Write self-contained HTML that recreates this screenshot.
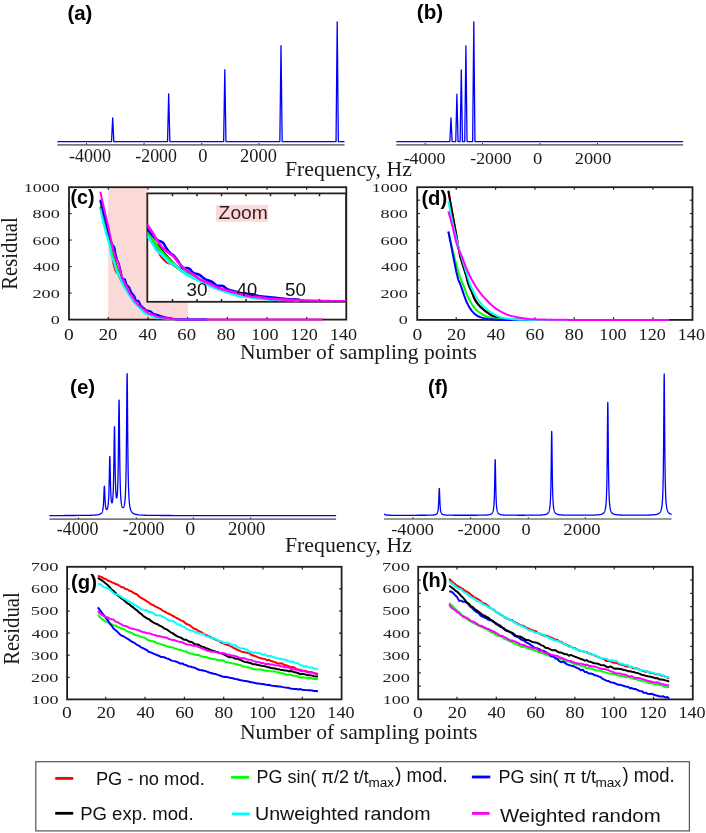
<!DOCTYPE html><html><head><meta charset="utf-8"><style>html,body{margin:0;padding:0;background:#fff;}svg{display:block;will-change:transform;}</style></head><body><svg width="706" height="833" viewBox="0 0 706 833"><rect width="706" height="833" fill="#fff"/><line x1="57.40" y1="144.80" x2="344.50" y2="144.80" stroke="#7a7a7a" stroke-width="1.7"/>
<path d="M57.40,141.60 L111.55,141.60 L112.70,117.80 L113.85,141.60 L167.55,141.60 L168.70,93.80 L169.85,141.60 L223.65,141.60 L224.80,69.70 L225.95,141.60 L279.85,141.60 L281.00,45.60 L282.15,141.60 L336.05,141.60 L337.20,21.90 L338.35,141.60 L344.50,141.60" fill="none" stroke="#0000ff" stroke-width="1.3" stroke-linejoin="round" stroke-linecap="butt"/>
<line x1="86.50" y1="143.00" x2="86.50" y2="144.40" stroke="#222" stroke-width="1.0"/>
<line x1="144.10" y1="143.00" x2="144.10" y2="144.40" stroke="#222" stroke-width="1.0"/>
<line x1="201.70" y1="143.00" x2="201.70" y2="144.40" stroke="#222" stroke-width="1.0"/>
<line x1="259.00" y1="143.00" x2="259.00" y2="144.40" stroke="#222" stroke-width="1.0"/>
<line x1="396.30" y1="144.80" x2="683.00" y2="144.80" stroke="#7a7a7a" stroke-width="1.7"/>
<path d="M396.30,141.60 L449.85,141.60 L451.00,118.00 L452.15,141.60 L455.75,141.60 L456.90,94.20 L458.05,141.60 L460.15,141.60 L461.30,70.00 L462.45,141.60 L464.75,141.60 L465.90,46.00 L467.05,141.60 L472.65,141.60 L473.80,22.00 L474.95,141.60 L683.00,141.60" fill="none" stroke="#0000ff" stroke-width="1.3" stroke-linejoin="round" stroke-linecap="butt"/>
<line x1="425.20" y1="143.00" x2="425.20" y2="144.40" stroke="#222" stroke-width="1.0"/>
<line x1="482.50" y1="143.00" x2="482.50" y2="144.40" stroke="#222" stroke-width="1.0"/>
<line x1="540.00" y1="143.00" x2="540.00" y2="144.40" stroke="#222" stroke-width="1.0"/>
<line x1="597.50" y1="143.00" x2="597.50" y2="144.40" stroke="#222" stroke-width="1.0"/>
<line x1="49.40" y1="519.20" x2="336.10" y2="519.20" stroke="#7a7a7a" stroke-width="1.7"/>
<path d="M49.40,515.56 L51.40,515.55 L53.40,515.55 L55.40,515.55 L57.40,515.54 L59.40,515.54 L61.40,515.54 L63.40,515.53 L65.40,515.52 L67.40,515.52 L69.40,515.51 L71.40,515.50 L73.40,515.49 L75.40,515.48 L77.40,515.47 L79.40,515.45 L81.40,515.43 L83.40,515.41 L85.40,515.38 L87.40,515.35 L89.40,515.30 L91.40,515.24 L92.40,515.21 L92.50,515.20 L92.60,515.20 L92.70,515.19 L92.80,515.19 L92.90,515.18 L93.00,515.18 L93.10,515.17 L93.20,515.17 L93.30,515.16 L93.40,515.16 L93.50,515.15 L93.60,515.15 L93.70,515.14 L93.80,515.14 L93.90,515.13 L94.00,515.13 L94.10,515.12 L94.20,515.12 L94.30,515.11 L94.40,515.10 L94.50,515.10 L94.60,515.09 L94.70,515.08 L94.80,515.08 L94.90,515.07 L95.00,515.06 L95.10,515.06 L95.20,515.05 L95.30,515.04 L95.40,515.03 L95.50,515.03 L95.60,515.02 L95.70,515.01 L95.80,515.00 L95.90,514.99 L96.00,514.98 L96.10,514.97 L96.20,514.97 L96.30,514.96 L96.40,514.95 L96.50,514.94 L96.60,514.92 L96.70,514.91 L96.80,514.90 L96.90,514.89 L97.00,514.88 L97.10,514.87 L97.20,514.85 L97.30,514.84 L97.40,514.83 L97.50,514.81 L97.60,514.80 L97.70,514.79 L97.80,514.77 L97.90,514.75 L98.00,514.74 L98.10,514.72 L98.20,514.70 L98.30,514.68 L98.40,514.67 L98.50,514.65 L98.60,514.62 L98.70,514.60 L98.80,514.58 L98.90,514.56 L99.00,514.53 L99.10,514.51 L99.20,514.48 L99.30,514.45 L99.40,514.42 L99.50,514.39 L99.60,514.36 L99.70,514.33 L99.80,514.29 L99.90,514.25 L100.00,514.21 L100.10,514.17 L100.20,514.13 L100.30,514.08 L100.40,514.03 L100.50,513.98 L100.60,513.92 L100.70,513.86 L100.80,513.79 L100.90,513.72 L101.00,513.65 L101.10,513.57 L101.20,513.48 L101.30,513.39 L101.40,513.29 L101.50,513.17 L101.60,513.05 L101.70,512.92 L101.80,512.77 L101.90,512.61 L102.00,512.43 L102.10,512.23 L102.20,512.01 L102.30,511.76 L102.40,511.48 L102.50,511.16 L102.60,510.80 L102.70,510.39 L102.80,509.91 L102.90,509.36 L103.00,508.72 L103.10,507.97 L103.20,507.10 L103.30,506.06 L103.40,504.84 L103.50,503.40 L103.60,501.69 L103.70,499.71 L103.80,497.44 L103.90,494.92 L104.00,492.29 L104.10,489.76 L104.20,487.69 L104.30,486.44 L104.40,486.28 L104.50,487.24 L104.60,489.08 L104.70,491.46 L104.80,494.01 L104.90,496.47 L105.00,498.70 L105.10,500.65 L105.20,502.31 L105.30,503.70 L105.40,504.86 L105.50,505.82 L105.60,506.62 L105.70,507.28 L105.80,507.82 L105.90,508.26 L106.00,508.62 L106.10,508.91 L106.20,509.14 L106.30,509.31 L106.40,509.44 L106.50,509.52 L106.60,509.56 L106.70,509.57 L106.80,509.54 L106.90,509.48 L107.00,509.38 L107.10,509.25 L107.20,509.08 L107.30,508.87 L107.40,508.62 L107.50,508.32 L107.60,507.97 L107.70,507.57 L107.80,507.10 L107.90,506.56 L108.00,505.93 L108.10,505.20 L108.20,504.36 L108.30,503.37 L108.40,502.21 L108.50,500.85 L108.60,499.25 L108.70,497.36 L108.80,495.12 L108.90,492.46 L109.00,489.31 L109.10,485.61 L109.20,481.32 L109.30,476.47 L109.40,471.23 L109.50,465.95 L109.60,461.21 L109.70,457.78 L109.80,456.32 L109.90,457.17 L110.00,460.11 L110.10,464.49 L110.20,469.56 L110.30,474.68 L110.40,479.46 L110.50,483.70 L110.60,487.34 L110.70,490.42 L110.80,492.98 L110.90,495.11 L111.00,496.86 L111.10,498.29 L111.20,499.47 L111.30,500.41 L111.40,501.17 L111.50,501.76 L111.60,502.21 L111.70,502.53 L111.80,502.72 L111.90,502.81 L112.00,502.80 L112.10,502.68 L112.20,502.45 L112.30,502.12 L112.40,501.68 L112.50,501.11 L112.60,500.41 L112.70,499.55 L112.80,498.52 L112.90,497.29 L113.00,495.81 L113.10,494.06 L113.20,491.97 L113.30,489.48 L113.40,486.51 L113.50,482.96 L113.60,478.74 L113.70,473.74 L113.80,467.87 L113.90,461.11 L114.00,453.57 L114.10,445.61 L114.20,437.90 L114.30,431.46 L114.40,427.42 L114.50,426.66 L114.60,429.33 L114.70,434.83 L114.80,442.05 L114.90,449.88 L115.00,457.52 L115.10,464.48 L115.20,470.57 L115.30,475.78 L115.40,480.15 L115.50,483.80 L115.60,486.83 L115.70,489.33 L115.80,491.39 L115.90,493.07 L116.00,494.44 L116.10,495.54 L116.20,496.41 L116.30,497.07 L116.40,497.54 L116.50,497.84 L116.60,497.99 L116.70,497.97 L116.80,497.81 L116.90,497.48 L117.00,497.00 L117.10,496.34 L117.20,495.48 L117.30,494.41 L117.40,493.10 L117.50,491.51 L117.60,489.59 L117.70,487.27 L117.80,484.50 L117.90,481.17 L118.00,477.18 L118.10,472.40 L118.20,466.69 L118.30,459.91 L118.40,451.97 L118.50,442.87 L118.60,432.80 L118.70,422.31 L118.80,412.40 L118.90,404.47 L119.00,400.04 L119.10,400.10 L119.20,404.66 L119.30,412.71 L119.40,422.76 L119.50,433.38 L119.60,443.58 L119.70,452.83 L119.80,460.91 L119.90,467.84 L120.00,473.71 L120.10,478.66 L120.20,482.83 L120.30,486.35 L120.40,489.34 L120.50,491.87 L120.60,494.04 L120.70,495.89 L120.80,497.49 L120.90,498.88 L121.00,500.08 L121.10,501.12 L121.20,502.04 L121.30,502.84 L121.40,503.55 L121.50,504.17 L121.60,504.71 L121.70,505.19 L121.80,505.61 L121.90,505.98 L122.00,506.31 L122.10,506.59 L122.20,506.83 L122.30,507.04 L122.40,507.21 L122.50,507.36 L122.60,507.47 L122.70,507.56 L122.80,507.62 L122.90,507.66 L123.00,507.67 L123.10,507.66 L123.20,507.62 L123.30,507.55 L123.40,507.46 L123.50,507.34 L123.60,507.19 L123.70,507.01 L123.80,506.80 L123.90,506.55 L124.00,506.27 L124.10,505.94 L124.20,505.57 L124.30,505.15 L124.40,504.67 L124.50,504.12 L124.60,503.51 L124.70,502.81 L124.80,502.02 L124.90,501.12 L125.00,500.10 L125.10,498.93 L125.20,497.59 L125.30,496.05 L125.40,494.27 L125.50,492.22 L125.60,489.82 L125.70,487.03 L125.80,483.75 L125.90,479.88 L126.00,475.30 L126.10,469.87 L126.20,463.41 L126.30,455.76 L126.40,446.75 L126.50,436.28 L126.60,424.40 L126.70,411.48 L126.80,398.36 L126.90,386.45 L127.00,377.61 L127.10,373.62 L127.20,375.39 L127.30,382.53 L127.40,393.50 L127.50,406.39 L127.60,419.57 L127.70,431.98 L127.80,443.09 L127.90,452.73 L128.00,460.96 L128.10,467.93 L128.20,473.80 L128.30,478.76 L128.40,482.95 L128.50,486.52 L128.60,489.55 L128.70,492.16 L128.80,494.41 L128.90,496.35 L129.00,498.05 L129.10,499.53 L129.20,500.83 L129.30,501.99 L129.40,503.01 L129.50,503.92 L129.60,504.73 L129.70,505.46 L129.80,506.12 L129.90,506.71 L130.00,507.25 L130.10,507.74 L130.20,508.19 L130.30,508.60 L130.40,508.97 L130.50,509.32 L130.60,509.63 L130.70,509.93 L130.80,510.20 L130.90,510.45 L131.00,510.68 L131.10,510.90 L131.20,511.10 L131.30,511.29 L131.40,511.46 L131.50,511.63 L131.60,511.78 L131.70,511.93 L131.80,512.07 L131.90,512.19 L132.00,512.32 L132.10,512.43 L132.20,512.54 L132.30,512.64 L132.40,512.74 L132.50,512.83 L132.60,512.92 L132.70,513.00 L132.80,513.08 L132.90,513.16 L133.00,513.23 L133.10,513.30 L133.20,513.36 L133.30,513.42 L133.40,513.48 L133.50,513.54 L133.60,513.59 L133.70,513.65 L133.80,513.70 L133.90,513.74 L134.00,513.79 L134.10,513.83 L134.20,513.88 L134.30,513.92 L134.40,513.96 L134.50,514.00 L134.60,514.03 L134.70,514.07 L134.80,514.10 L134.90,514.13 L135.00,514.17 L135.10,514.20 L135.20,514.23 L135.30,514.25 L135.40,514.28 L135.50,514.31 L135.60,514.33 L135.70,514.36 L135.80,514.38 L135.90,514.41 L136.00,514.43 L136.10,514.45 L136.20,514.47 L136.30,514.49 L136.40,514.51 L136.50,514.53 L136.60,514.55 L136.70,514.57 L136.80,514.59 L136.90,514.60 L137.00,514.62 L137.10,514.64 L137.20,514.65 L137.30,514.67 L137.40,514.68 L137.50,514.70 L137.60,514.71 L137.70,514.73 L137.80,514.74 L137.90,514.75 L138.00,514.77 L138.10,514.78 L138.20,514.79 L138.30,514.81 L138.40,514.82 L138.50,514.83 L138.60,514.84 L138.70,514.85 L138.80,514.86 L138.90,514.87 L139.00,514.88 L139.10,514.89 L139.40,514.92 L141.40,515.07 L143.40,515.18 L145.40,515.25 L147.40,515.31 L149.40,515.35 L151.40,515.38 L153.40,515.41 L155.40,515.43 L157.40,515.45 L159.40,515.47 L161.40,515.48 L163.40,515.49 L165.40,515.50 L167.40,515.51 L169.40,515.52 L171.40,515.52 L173.40,515.53 L175.40,515.53 L177.40,515.54 L179.40,515.54 L181.40,515.55 L183.40,515.55 L185.40,515.55 L187.40,515.56 L189.40,515.56 L191.40,515.56 L193.40,515.56 L195.40,515.56 L197.40,515.57 L199.40,515.57 L201.40,515.57 L203.40,515.57 L205.40,515.57 L207.40,515.57 L209.40,515.58 L211.40,515.58 L213.40,515.58 L215.40,515.58 L217.40,515.58 L219.40,515.58 L221.40,515.58 L223.40,515.58 L225.40,515.58 L227.40,515.58 L229.40,515.58 L231.40,515.58 L233.40,515.58 L235.40,515.59 L237.40,515.59 L239.40,515.59 L241.40,515.59 L243.40,515.59 L245.40,515.59 L247.40,515.59 L249.40,515.59 L251.40,515.59 L253.40,515.59 L255.40,515.59 L257.40,515.59 L259.40,515.59 L261.40,515.59 L263.40,515.59 L265.40,515.59 L267.40,515.59 L269.40,515.59 L271.40,515.59 L273.40,515.59 L275.40,515.59 L277.40,515.59 L279.40,515.59 L281.40,515.59 L283.40,515.59 L285.40,515.59 L287.40,515.59 L289.40,515.59 L291.40,515.59 L293.40,515.59 L295.40,515.59 L297.40,515.59 L299.40,515.59 L301.40,515.59 L303.40,515.59 L305.40,515.59 L307.40,515.59 L309.40,515.59 L311.40,515.59 L313.40,515.59 L315.40,515.59 L317.40,515.59 L319.40,515.59 L321.40,515.60 L323.40,515.60 L325.40,515.60 L327.40,515.60 L329.40,515.60 L331.40,515.60 L333.40,515.60 L335.40,515.60 L336.10,515.60" fill="none" stroke="#0000ff" stroke-width="1.3" stroke-linejoin="round" stroke-linecap="butt"/>
<line x1="78.40" y1="517.40" x2="78.40" y2="518.80" stroke="#222" stroke-width="1.0"/>
<line x1="136.30" y1="517.40" x2="136.30" y2="518.80" stroke="#222" stroke-width="1.0"/>
<line x1="193.30" y1="517.40" x2="193.30" y2="518.80" stroke="#222" stroke-width="1.0"/>
<line x1="250.60" y1="517.40" x2="250.60" y2="518.80" stroke="#222" stroke-width="1.0"/>
<line x1="384.00" y1="519.00" x2="671.60" y2="519.00" stroke="#7a7a7a" stroke-width="1.7"/>
<path d="M384.00,514.09 L386.00,514.98 L388.00,515.21 L390.00,515.27 L392.00,515.29 L394.00,515.29 L396.00,515.29 L398.00,515.29 L400.00,515.29 L402.00,515.29 L404.00,515.29 L406.00,515.29 L408.00,515.28 L410.00,515.28 L412.00,515.28 L414.00,515.28 L416.00,515.28 L418.00,515.27 L420.00,515.27 L422.00,515.26 L424.00,515.25 L426.00,515.24 L427.30,515.22 L427.40,515.22 L427.50,515.22 L427.60,515.22 L427.70,515.22 L427.80,515.22 L427.90,515.22 L428.00,515.22 L428.10,515.21 L428.20,515.21 L428.30,515.21 L428.40,515.21 L428.50,515.21 L428.60,515.21 L428.70,515.21 L428.80,515.20 L428.90,515.20 L429.00,515.20 L429.10,515.20 L429.20,515.20 L429.30,515.19 L429.40,515.19 L429.50,515.19 L429.60,515.19 L429.70,515.19 L429.80,515.18 L429.90,515.18 L430.00,515.18 L430.10,515.18 L430.20,515.17 L430.30,515.17 L430.40,515.17 L430.50,515.17 L430.60,515.16 L430.70,515.16 L430.80,515.16 L430.90,515.15 L431.00,515.15 L431.10,515.15 L431.20,515.14 L431.30,515.14 L431.40,515.14 L431.50,515.13 L431.60,515.13 L431.70,515.12 L431.80,515.12 L431.90,515.11 L432.00,515.11 L432.10,515.10 L432.20,515.10 L432.30,515.09 L432.40,515.09 L432.50,515.08 L432.60,515.08 L432.70,515.07 L432.80,515.06 L432.90,515.06 L433.00,515.05 L433.10,515.04 L433.20,515.03 L433.30,515.02 L433.40,515.01 L433.50,515.00 L433.60,514.99 L433.70,514.98 L433.80,514.97 L433.90,514.96 L434.00,514.95 L434.10,514.94 L434.20,514.92 L434.30,514.91 L434.40,514.89 L434.50,514.87 L434.60,514.86 L434.70,514.84 L434.80,514.82 L434.90,514.80 L435.00,514.77 L435.10,514.75 L435.20,514.72 L435.30,514.70 L435.40,514.67 L435.50,514.63 L435.60,514.60 L435.70,514.56 L435.80,514.52 L435.90,514.47 L436.00,514.43 L436.10,514.37 L436.20,514.31 L436.30,514.25 L436.40,514.18 L436.50,514.10 L436.60,514.02 L436.70,513.92 L436.80,513.82 L436.90,513.70 L437.00,513.57 L437.10,513.42 L437.20,513.25 L437.30,513.06 L437.40,512.84 L437.50,512.59 L437.60,512.30 L437.70,511.96 L437.80,511.57 L437.90,511.10 L438.00,510.55 L438.10,509.89 L438.20,509.10 L438.30,508.14 L438.40,506.98 L438.50,505.57 L438.60,503.85 L438.70,501.79 L438.80,499.35 L438.90,496.60 L439.00,493.69 L439.10,490.99 L439.20,489.02 L439.30,488.29 L439.40,489.02 L439.50,490.99 L439.60,493.69 L439.70,496.60 L439.80,499.35 L439.90,501.79 L440.00,503.85 L440.10,505.57 L440.20,506.98 L440.30,508.14 L440.40,509.10 L440.50,509.89 L440.60,510.55 L440.70,511.10 L440.80,511.56 L440.90,511.96 L441.00,512.30 L441.10,512.59 L441.20,512.84 L441.30,513.06 L441.40,513.25 L441.50,513.42 L441.60,513.57 L441.70,513.70 L441.80,513.82 L441.90,513.92 L442.00,514.02 L442.10,514.10 L442.20,514.18 L442.30,514.25 L442.40,514.31 L442.50,514.37 L442.60,514.42 L442.70,514.47 L442.80,514.52 L442.90,514.56 L443.00,514.60 L443.10,514.63 L443.20,514.66 L443.30,514.69 L443.40,514.72 L443.50,514.75 L443.60,514.77 L443.70,514.79 L443.80,514.82 L443.90,514.84 L444.00,514.85 L444.10,514.87 L444.20,514.89 L444.30,514.90 L444.40,514.92 L444.50,514.93 L444.60,514.95 L444.70,514.96 L444.80,514.97 L444.90,514.98 L445.00,514.99 L445.10,515.00 L445.20,515.01 L445.30,515.02 L445.40,515.03 L445.50,515.04 L445.60,515.04 L445.70,515.05 L445.80,515.06 L445.90,515.07 L446.00,515.07 L446.10,515.08 L446.20,515.08 L446.30,515.09 L446.40,515.09 L446.50,515.10 L446.60,515.10 L446.70,515.11 L446.80,515.11 L446.90,515.12 L447.00,515.12 L447.10,515.13 L447.20,515.13 L447.30,515.13 L447.40,515.14 L447.50,515.14 L447.60,515.15 L447.70,515.15 L447.80,515.15 L447.90,515.15 L448.00,515.16 L448.10,515.16 L448.20,515.16 L448.30,515.17 L448.40,515.17 L448.50,515.17 L448.60,515.17 L448.70,515.18 L448.80,515.18 L448.90,515.18 L449.00,515.18 L449.10,515.18 L449.20,515.19 L449.30,515.19 L449.40,515.19 L449.50,515.19 L449.60,515.19 L449.70,515.20 L449.80,515.20 L449.90,515.20 L450.00,515.20 L450.10,515.20 L450.20,515.20 L450.30,515.20 L450.40,515.21 L450.50,515.21 L450.60,515.21 L450.70,515.21 L450.80,515.21 L450.90,515.21 L451.00,515.21 L451.10,515.21 L451.20,515.22 L452.00,515.22 L454.00,515.24 L456.00,515.25 L458.00,515.25 L460.00,515.25 L462.00,515.26 L464.00,515.26 L466.00,515.26 L468.00,515.25 L470.00,515.25 L472.00,515.25 L474.00,515.24 L476.00,515.23 L478.00,515.22 L480.00,515.20 L482.00,515.17 L483.20,515.15 L483.30,515.14 L483.40,515.14 L483.50,515.14 L483.60,515.14 L483.70,515.13 L483.80,515.13 L483.90,515.13 L484.00,515.12 L484.10,515.12 L484.20,515.12 L484.30,515.12 L484.40,515.11 L484.50,515.11 L484.60,515.11 L484.70,515.10 L484.80,515.10 L484.90,515.10 L485.00,515.09 L485.10,515.09 L485.20,515.08 L485.30,515.08 L485.40,515.08 L485.50,515.07 L485.60,515.07 L485.70,515.06 L485.80,515.06 L485.90,515.05 L486.00,515.05 L486.10,515.04 L486.20,515.04 L486.30,515.03 L486.40,515.03 L486.50,515.02 L486.60,515.01 L486.70,515.01 L486.80,515.00 L486.90,514.99 L487.00,514.99 L487.10,514.98 L487.20,514.97 L487.30,514.96 L487.40,514.96 L487.50,514.95 L487.60,514.94 L487.70,514.93 L487.80,514.92 L487.90,514.91 L488.00,514.90 L488.10,514.89 L488.20,514.88 L488.30,514.87 L488.40,514.85 L488.50,514.84 L488.60,514.83 L488.70,514.81 L488.80,514.80 L488.90,514.78 L489.00,514.77 L489.10,514.75 L489.20,514.73 L489.30,514.71 L489.40,514.69 L489.50,514.67 L489.60,514.65 L489.70,514.63 L489.80,514.60 L489.90,514.58 L490.00,514.55 L490.10,514.52 L490.20,514.49 L490.30,514.46 L490.40,514.43 L490.50,514.39 L490.60,514.35 L490.70,514.31 L490.80,514.27 L490.90,514.22 L491.00,514.17 L491.10,514.12 L491.20,514.06 L491.30,514.00 L491.40,513.93 L491.50,513.86 L491.60,513.78 L491.70,513.69 L491.80,513.60 L491.90,513.50 L492.00,513.39 L492.10,513.27 L492.20,513.14 L492.30,513.00 L492.40,512.84 L492.50,512.66 L492.60,512.47 L492.70,512.25 L492.80,512.01 L492.90,511.73 L493.00,511.43 L493.10,511.08 L493.20,510.68 L493.30,510.23 L493.40,509.71 L493.50,509.11 L493.60,508.42 L493.70,507.60 L493.80,506.64 L493.90,505.50 L494.00,504.14 L494.10,502.51 L494.20,500.54 L494.30,498.14 L494.40,495.23 L494.50,491.69 L494.60,487.43 L494.70,482.41 L494.80,476.72 L494.90,470.72 L495.00,465.15 L495.10,461.09 L495.20,459.58 L495.30,461.09 L495.40,465.15 L495.50,470.72 L495.60,476.72 L495.70,482.41 L495.80,487.43 L495.90,491.69 L496.00,495.23 L496.10,498.14 L496.20,500.54 L496.30,502.51 L496.40,504.14 L496.50,505.50 L496.60,506.64 L496.70,507.60 L496.80,508.41 L496.90,509.11 L497.00,509.71 L497.10,510.23 L497.20,510.68 L497.30,511.08 L497.40,511.43 L497.50,511.73 L497.60,512.01 L497.70,512.25 L497.80,512.47 L497.90,512.66 L498.00,512.84 L498.10,513.00 L498.20,513.14 L498.30,513.27 L498.40,513.39 L498.50,513.50 L498.60,513.60 L498.70,513.69 L498.80,513.78 L498.90,513.85 L499.00,513.93 L499.10,513.99 L499.20,514.06 L499.30,514.11 L499.40,514.17 L499.50,514.22 L499.60,514.26 L499.70,514.31 L499.80,514.35 L499.90,514.39 L500.00,514.42 L500.10,514.46 L500.20,514.49 L500.30,514.52 L500.40,514.55 L500.50,514.58 L500.60,514.60 L500.70,514.63 L500.80,514.65 L500.90,514.67 L501.00,514.69 L501.10,514.71 L501.20,514.73 L501.30,514.75 L501.40,514.76 L501.50,514.78 L501.60,514.79 L501.70,514.81 L501.80,514.82 L501.90,514.84 L502.00,514.85 L502.10,514.86 L502.20,514.87 L502.30,514.88 L502.40,514.90 L502.50,514.91 L502.60,514.92 L502.70,514.93 L502.80,514.93 L502.90,514.94 L503.00,514.95 L503.10,514.96 L503.20,514.97 L503.30,514.98 L503.40,514.98 L503.50,514.99 L503.60,515.00 L503.70,515.00 L503.80,515.01 L503.90,515.02 L504.00,515.02 L504.10,515.03 L504.20,515.03 L504.30,515.04 L504.40,515.04 L504.50,515.05 L504.60,515.05 L504.70,515.06 L504.80,515.06 L504.90,515.07 L505.00,515.07 L505.10,515.07 L505.20,515.08 L505.30,515.08 L505.40,515.09 L505.50,515.09 L505.60,515.09 L505.70,515.10 L505.80,515.10 L505.90,515.10 L506.00,515.11 L506.10,515.11 L506.20,515.11 L506.30,515.11 L506.40,515.12 L506.50,515.12 L506.60,515.12 L506.70,515.13 L506.80,515.13 L506.90,515.13 L507.00,515.13 L507.10,515.14 L508.00,515.15 L510.00,515.18 L512.00,515.20 L514.00,515.21 L516.00,515.22 L518.00,515.23 L520.00,515.23 L522.00,515.23 L524.00,515.23 L526.00,515.22 L528.00,515.22 L530.00,515.21 L532.00,515.20 L534.00,515.18 L536.00,515.15 L538.00,515.12 L539.70,515.07 L539.80,515.06 L539.90,515.06 L540.00,515.06 L540.10,515.05 L540.20,515.05 L540.30,515.04 L540.40,515.04 L540.50,515.04 L540.60,515.03 L540.70,515.03 L540.80,515.02 L540.90,515.02 L541.00,515.01 L541.10,515.01 L541.20,515.00 L541.30,515.00 L541.40,514.99 L541.50,514.99 L541.60,514.98 L541.70,514.98 L541.80,514.97 L541.90,514.96 L542.00,514.96 L542.10,514.95 L542.20,514.94 L542.30,514.94 L542.40,514.93 L542.50,514.92 L542.60,514.91 L542.70,514.91 L542.80,514.90 L542.90,514.89 L543.00,514.88 L543.10,514.87 L543.20,514.86 L543.30,514.85 L543.40,514.84 L543.50,514.83 L543.60,514.82 L543.70,514.81 L543.80,514.80 L543.90,514.78 L544.00,514.77 L544.10,514.76 L544.20,514.74 L544.30,514.73 L544.40,514.71 L544.50,514.70 L544.60,514.68 L544.70,514.66 L544.80,514.65 L544.90,514.63 L545.00,514.61 L545.10,514.59 L545.20,514.57 L545.30,514.55 L545.40,514.52 L545.50,514.50 L545.60,514.47 L545.70,514.45 L545.80,514.42 L545.90,514.39 L546.00,514.36 L546.10,514.32 L546.20,514.29 L546.30,514.25 L546.40,514.21 L546.50,514.17 L546.60,514.13 L546.70,514.08 L546.80,514.04 L546.90,513.98 L547.00,513.93 L547.10,513.87 L547.20,513.81 L547.30,513.74 L547.40,513.67 L547.50,513.60 L547.60,513.52 L547.70,513.43 L547.80,513.33 L547.90,513.23 L548.00,513.12 L548.10,513.01 L548.20,512.88 L548.30,512.74 L548.40,512.59 L548.50,512.42 L548.60,512.24 L548.70,512.05 L548.80,511.83 L548.90,511.59 L549.00,511.32 L549.10,511.03 L549.20,510.70 L549.30,510.34 L549.40,509.92 L549.50,509.46 L549.60,508.94 L549.70,508.34 L549.80,507.66 L549.90,506.88 L550.00,505.97 L550.10,504.92 L550.20,503.69 L550.30,502.24 L550.40,500.53 L550.50,498.48 L550.60,496.02 L550.70,493.04 L550.80,489.43 L550.90,485.04 L551.00,479.70 L551.10,473.28 L551.20,465.70 L551.30,457.12 L551.40,448.08 L551.50,439.68 L551.60,433.55 L551.70,431.28 L551.80,433.55 L551.90,439.68 L552.00,448.08 L552.10,457.12 L552.20,465.70 L552.30,473.28 L552.40,479.70 L552.50,485.04 L552.60,489.43 L552.70,493.04 L552.80,496.01 L552.90,498.48 L553.00,500.52 L553.10,502.24 L553.20,503.69 L553.30,504.92 L553.40,505.97 L553.50,506.88 L553.60,507.66 L553.70,508.34 L553.80,508.94 L553.90,509.46 L554.00,509.92 L554.10,510.33 L554.20,510.70 L554.30,511.03 L554.40,511.32 L554.50,511.59 L554.60,511.83 L554.70,512.04 L554.80,512.24 L554.90,512.42 L555.00,512.59 L555.10,512.74 L555.20,512.88 L555.30,513.00 L555.40,513.12 L555.50,513.23 L555.60,513.33 L555.70,513.43 L555.80,513.51 L555.90,513.59 L556.00,513.67 L556.10,513.74 L556.20,513.81 L556.30,513.87 L556.40,513.93 L556.50,513.98 L556.60,514.03 L556.70,514.08 L556.80,514.13 L556.90,514.17 L557.00,514.21 L557.10,514.25 L557.20,514.29 L557.30,514.32 L557.40,514.35 L557.50,514.38 L557.60,514.41 L557.70,514.44 L557.80,514.47 L557.90,514.49 L558.00,514.52 L558.10,514.54 L558.20,514.56 L558.30,514.58 L558.40,514.60 L558.50,514.62 L558.60,514.64 L558.70,514.66 L558.80,514.68 L558.90,514.69 L559.00,514.71 L559.10,514.72 L559.20,514.74 L559.30,514.75 L559.40,514.77 L559.50,514.78 L559.60,514.79 L559.70,514.80 L559.80,514.81 L559.90,514.82 L560.00,514.84 L560.10,514.85 L560.20,514.86 L560.30,514.86 L560.40,514.87 L560.50,514.88 L560.60,514.89 L560.70,514.90 L560.80,514.91 L560.90,514.92 L561.00,514.92 L561.10,514.93 L561.20,514.94 L561.30,514.94 L561.40,514.95 L561.50,514.96 L561.60,514.96 L561.70,514.97 L561.80,514.98 L561.90,514.98 L562.00,514.99 L562.10,514.99 L562.20,515.00 L562.30,515.00 L562.40,515.01 L562.50,515.01 L562.60,515.02 L562.70,515.02 L562.80,515.03 L562.90,515.03 L563.00,515.03 L563.10,515.04 L563.20,515.04 L563.30,515.05 L563.40,515.05 L563.50,515.05 L563.60,515.06 L564.00,515.07 L566.00,515.12 L568.00,515.15 L570.00,515.17 L572.00,515.19 L574.00,515.19 L576.00,515.20 L578.00,515.20 L580.00,515.20 L582.00,515.20 L584.00,515.19 L586.00,515.18 L588.00,515.16 L590.00,515.14 L592.00,515.11 L594.00,515.06 L595.80,514.99 L595.90,514.98 L596.00,514.98 L596.10,514.98 L596.20,514.97 L596.30,514.96 L596.40,514.96 L596.50,514.95 L596.60,514.95 L596.70,514.94 L596.80,514.94 L596.90,514.93 L597.00,514.92 L597.10,514.92 L597.20,514.91 L597.30,514.90 L597.40,514.90 L597.50,514.89 L597.60,514.88 L597.70,514.87 L597.80,514.87 L597.90,514.86 L598.00,514.85 L598.10,514.84 L598.20,514.83 L598.30,514.82 L598.40,514.81 L598.50,514.80 L598.60,514.79 L598.70,514.78 L598.80,514.77 L598.90,514.76 L599.00,514.75 L599.10,514.74 L599.20,514.73 L599.30,514.71 L599.40,514.70 L599.50,514.69 L599.60,514.67 L599.70,514.66 L599.80,514.64 L599.90,514.62 L600.00,514.61 L600.10,514.59 L600.20,514.57 L600.30,514.55 L600.40,514.54 L600.50,514.52 L600.60,514.49 L600.70,514.47 L600.80,514.45 L600.90,514.43 L601.00,514.40 L601.10,514.37 L601.20,514.35 L601.30,514.32 L601.40,514.29 L601.50,514.26 L601.60,514.23 L601.70,514.19 L601.80,514.15 L601.90,514.12 L602.00,514.08 L602.10,514.04 L602.20,513.99 L602.30,513.95 L602.40,513.90 L602.50,513.84 L602.60,513.79 L602.70,513.73 L602.80,513.67 L602.90,513.61 L603.00,513.54 L603.10,513.46 L603.20,513.38 L603.30,513.30 L603.40,513.21 L603.50,513.12 L603.60,513.01 L603.70,512.91 L603.80,512.79 L603.90,512.66 L604.00,512.53 L604.10,512.38 L604.20,512.22 L604.30,512.05 L604.40,511.86 L604.50,511.66 L604.60,511.44 L604.70,511.20 L604.80,510.93 L604.90,510.64 L605.00,510.32 L605.10,509.96 L605.20,509.56 L605.30,509.12 L605.40,508.63 L605.50,508.08 L605.60,507.46 L605.70,506.75 L605.80,505.95 L605.90,505.03 L606.00,503.98 L606.10,502.77 L606.20,501.35 L606.30,499.70 L606.40,497.75 L606.50,495.45 L606.60,492.69 L606.70,489.38 L606.80,485.39 L606.90,480.53 L607.00,474.63 L607.10,467.46 L607.20,458.82 L607.30,448.64 L607.40,437.11 L607.50,424.95 L607.60,413.66 L607.70,405.42 L607.80,402.37 L607.90,405.42 L608.00,413.66 L608.10,424.95 L608.20,437.11 L608.30,448.64 L608.40,458.82 L608.50,467.46 L608.60,474.63 L608.70,480.53 L608.80,485.39 L608.90,489.38 L609.00,492.69 L609.10,495.45 L609.20,497.75 L609.30,499.70 L609.40,501.35 L609.50,502.77 L609.60,503.98 L609.70,505.03 L609.80,505.95 L609.90,506.75 L610.00,507.46 L610.10,508.08 L610.20,508.63 L610.30,509.12 L610.40,509.56 L610.50,509.96 L610.60,510.32 L610.70,510.64 L610.80,510.93 L610.90,511.20 L611.00,511.44 L611.10,511.66 L611.20,511.86 L611.30,512.05 L611.40,512.22 L611.50,512.38 L611.60,512.53 L611.70,512.66 L611.80,512.79 L611.90,512.90 L612.00,513.01 L612.10,513.12 L612.20,513.21 L612.30,513.30 L612.40,513.38 L612.50,513.46 L612.60,513.53 L612.70,513.60 L612.80,513.67 L612.90,513.73 L613.00,513.79 L613.10,513.84 L613.20,513.89 L613.30,513.94 L613.40,513.99 L613.50,514.03 L613.60,514.08 L613.70,514.11 L613.80,514.15 L613.90,514.19 L614.00,514.22 L614.10,514.26 L614.20,514.29 L614.30,514.32 L614.40,514.34 L614.50,514.37 L614.60,514.40 L614.70,514.42 L614.80,514.45 L614.90,514.47 L615.00,514.49 L615.10,514.51 L615.20,514.53 L615.30,514.55 L615.40,514.57 L615.50,514.59 L615.60,514.61 L615.70,514.62 L615.80,514.64 L615.90,514.65 L616.00,514.67 L616.10,514.68 L616.20,514.70 L616.30,514.71 L616.40,514.72 L616.50,514.73 L616.60,514.75 L616.70,514.76 L616.80,514.77 L616.90,514.78 L617.00,514.79 L617.10,514.80 L617.20,514.81 L617.30,514.82 L617.40,514.83 L617.50,514.84 L617.60,514.85 L617.70,514.85 L617.80,514.86 L617.90,514.87 L618.00,514.88 L618.10,514.89 L618.20,514.89 L618.30,514.90 L618.40,514.91 L618.50,514.91 L618.60,514.92 L618.70,514.93 L618.80,514.93 L618.90,514.94 L619.00,514.94 L619.10,514.95 L619.20,514.95 L619.30,514.96 L619.40,514.97 L619.50,514.97 L619.60,514.98 L619.70,514.98 L620.00,514.99 L622.00,515.06 L624.00,515.11 L626.00,515.14 L628.00,515.16 L630.00,515.17 L632.00,515.18 L634.00,515.18 L636.00,515.18 L638.00,515.18 L640.00,515.17 L642.00,515.16 L644.00,515.14 L646.00,515.11 L648.00,515.08 L650.00,515.02 L652.00,514.93 L652.20,514.92 L652.30,514.92 L652.40,514.91 L652.50,514.91 L652.60,514.90 L652.70,514.89 L652.80,514.89 L652.90,514.88 L653.00,514.87 L653.10,514.86 L653.20,514.86 L653.30,514.85 L653.40,514.84 L653.50,514.83 L653.60,514.83 L653.70,514.82 L653.80,514.81 L653.90,514.80 L654.00,514.79 L654.10,514.78 L654.20,514.77 L654.30,514.76 L654.40,514.75 L654.50,514.74 L654.60,514.73 L654.70,514.72 L654.80,514.70 L654.90,514.69 L655.00,514.68 L655.10,514.67 L655.20,514.65 L655.30,514.64 L655.40,514.62 L655.50,514.61 L655.60,514.59 L655.70,514.58 L655.80,514.56 L655.90,514.54 L656.00,514.53 L656.10,514.51 L656.20,514.49 L656.30,514.47 L656.40,514.45 L656.50,514.43 L656.60,514.40 L656.70,514.38 L656.80,514.36 L656.90,514.33 L657.00,514.31 L657.10,514.28 L657.20,514.25 L657.30,514.22 L657.40,514.19 L657.50,514.16 L657.60,514.12 L657.70,514.09 L657.80,514.05 L657.90,514.01 L658.00,513.97 L658.10,513.93 L658.20,513.88 L658.30,513.83 L658.40,513.78 L658.50,513.73 L658.60,513.68 L658.70,513.62 L658.80,513.56 L658.90,513.49 L659.00,513.42 L659.10,513.35 L659.20,513.28 L659.30,513.19 L659.40,513.11 L659.50,513.02 L659.60,512.92 L659.70,512.81 L659.80,512.70 L659.90,512.58 L660.00,512.46 L660.10,512.32 L660.20,512.17 L660.30,512.01 L660.40,511.84 L660.50,511.66 L660.60,511.46 L660.70,511.25 L660.80,511.01 L660.90,510.76 L661.00,510.48 L661.10,510.18 L661.20,509.85 L661.30,509.48 L661.40,509.08 L661.50,508.63 L661.60,508.14 L661.70,507.59 L661.80,506.97 L661.90,506.28 L662.00,505.50 L662.10,504.62 L662.20,503.62 L662.30,502.47 L662.40,501.15 L662.50,499.63 L662.60,497.86 L662.70,495.79 L662.80,493.36 L662.90,490.47 L663.00,487.02 L663.10,482.88 L663.20,477.88 L663.30,471.81 L663.40,464.42 L663.50,455.44 L663.60,444.63 L663.70,431.89 L663.80,417.46 L663.90,402.24 L664.00,388.11 L664.10,377.80 L664.20,373.98 L664.30,377.80 L664.40,388.11 L664.50,402.24 L664.60,417.46 L664.70,431.89 L664.80,444.63 L664.90,455.44 L665.00,464.42 L665.10,471.81 L665.20,477.88 L665.30,482.88 L665.40,487.02 L665.50,490.47 L665.60,493.36 L665.70,495.80 L665.80,497.86 L665.90,499.63 L666.00,501.15 L666.10,502.47 L666.20,503.62 L666.30,504.62 L666.40,505.50 L666.50,506.28 L666.60,506.97 L666.70,507.59 L666.80,508.14 L666.90,508.64 L667.00,509.08 L667.10,509.49 L667.20,509.85 L667.30,510.18 L667.40,510.49 L667.50,510.76 L667.60,511.02 L667.70,511.25 L667.80,511.47 L667.90,511.67 L668.00,511.85 L668.10,512.02 L668.20,512.18 L668.30,512.32 L668.40,512.46 L668.50,512.59 L668.60,512.71 L668.70,512.82 L668.80,512.92 L668.90,513.02 L669.00,513.11 L669.10,513.20 L669.20,513.28 L669.30,513.36 L669.40,513.43 L669.50,513.50 L669.60,513.56 L669.70,513.62 L669.80,513.68 L669.90,513.74 L670.00,513.79 L670.10,513.84 L670.20,513.89 L670.30,513.93 L670.40,513.98 L670.50,514.02 L670.60,514.06 L670.70,514.09 L670.80,514.13 L670.90,514.16 L671.00,514.20 L671.10,514.23 L671.20,514.26 L671.30,514.29 L671.40,514.31 L671.50,514.34 L671.60,514.36" fill="none" stroke="#0000ff" stroke-width="1.3" stroke-linejoin="round" stroke-linecap="butt"/>
<line x1="413.00" y1="517.20" x2="413.00" y2="518.60" stroke="#222" stroke-width="1.0"/>
<line x1="470.60" y1="517.20" x2="470.60" y2="518.60" stroke="#222" stroke-width="1.0"/>
<line x1="528.30" y1="517.20" x2="528.30" y2="518.60" stroke="#222" stroke-width="1.0"/>
<line x1="585.30" y1="517.20" x2="585.30" y2="518.60" stroke="#222" stroke-width="1.0"/>
<rect x="108.2" y="188.0" width="79.9" height="131.0" fill="#fbd9d9"/>
<rect x="147.3" y="188.0" width="198.7" height="113.0" fill="#fff"/>
<line x1="108.28" y1="187.20" x2="108.28" y2="189.80" stroke="#1e1e1e" stroke-width="1.2"/>
<line x1="108.28" y1="319.60" x2="108.28" y2="317.00" stroke="#1e1e1e" stroke-width="1.2"/>
<line x1="147.96" y1="187.20" x2="147.96" y2="189.80" stroke="#1e1e1e" stroke-width="1.2"/>
<line x1="147.96" y1="319.60" x2="147.96" y2="317.00" stroke="#1e1e1e" stroke-width="1.2"/>
<line x1="187.64" y1="187.20" x2="187.64" y2="189.80" stroke="#1e1e1e" stroke-width="1.2"/>
<line x1="187.64" y1="319.60" x2="187.64" y2="317.00" stroke="#1e1e1e" stroke-width="1.2"/>
<line x1="227.32" y1="187.20" x2="227.32" y2="189.80" stroke="#1e1e1e" stroke-width="1.2"/>
<line x1="227.32" y1="319.60" x2="227.32" y2="317.00" stroke="#1e1e1e" stroke-width="1.2"/>
<line x1="267.00" y1="187.20" x2="267.00" y2="189.80" stroke="#1e1e1e" stroke-width="1.2"/>
<line x1="267.00" y1="319.60" x2="267.00" y2="317.00" stroke="#1e1e1e" stroke-width="1.2"/>
<line x1="306.68" y1="187.20" x2="306.68" y2="189.80" stroke="#1e1e1e" stroke-width="1.2"/>
<line x1="306.68" y1="319.60" x2="306.68" y2="317.00" stroke="#1e1e1e" stroke-width="1.2"/>
<line x1="69.00" y1="293.08" x2="71.60" y2="293.08" stroke="#1e1e1e" stroke-width="1.2"/>
<line x1="346.30" y1="293.08" x2="343.70" y2="293.08" stroke="#1e1e1e" stroke-width="1.2"/>
<line x1="69.00" y1="266.56" x2="71.60" y2="266.56" stroke="#1e1e1e" stroke-width="1.2"/>
<line x1="346.30" y1="266.56" x2="343.70" y2="266.56" stroke="#1e1e1e" stroke-width="1.2"/>
<line x1="69.00" y1="240.04" x2="71.60" y2="240.04" stroke="#1e1e1e" stroke-width="1.2"/>
<line x1="346.30" y1="240.04" x2="343.70" y2="240.04" stroke="#1e1e1e" stroke-width="1.2"/>
<line x1="69.00" y1="213.52" x2="71.60" y2="213.52" stroke="#1e1e1e" stroke-width="1.2"/>
<line x1="346.30" y1="213.52" x2="343.70" y2="213.52" stroke="#1e1e1e" stroke-width="1.2"/>
<rect x="69.00" y="187.20" width="277.30" height="132.40" fill="none" stroke="#1e1e1e" stroke-width="1.8"/>
<path d="M100.34,200.92 L102.33,210.87 L104.31,220.15 L106.30,228.77 L108.28,237.23 L108.78,238.73 L109.27,240.44 L109.77,242.32 L110.26,244.57 L110.76,247.24 L111.26,249.21 L111.75,250.18 L112.25,250.86 L112.74,251.68 L113.24,253.32 L113.74,256.26 L114.23,258.59 L114.73,260.50 L115.22,262.24 L115.72,263.86 L116.22,265.41 L116.71,266.96 L117.21,268.55 L117.70,270.17 L118.20,271.79 L118.70,273.35 L119.19,274.82 L119.69,276.15 L120.18,277.42 L120.68,278.63 L121.18,279.79 L121.67,280.90 L122.17,281.94 L122.66,282.93 L123.16,283.85 L123.66,284.70 L124.15,285.48 L124.65,286.23 L125.14,286.97 L125.64,287.71 L126.14,288.49 L126.63,289.33 L127.13,290.23 L127.62,291.16 L128.12,292.09 L128.62,293.00 L129.11,293.86 L129.61,294.65 L130.10,295.42 L130.60,296.18 L131.10,296.93 L131.59,297.67 L132.09,298.39 L132.58,299.10 L133.08,299.80 L133.58,300.47 L134.07,301.13 L134.57,301.78 L135.06,302.40 L135.56,303.00 L136.06,303.58 L136.55,304.14 L137.05,304.68 L137.54,305.19 L138.04,305.69 L138.54,306.18 L139.03,306.66 L139.53,307.13 L140.02,307.60 L140.52,308.05 L141.02,308.49 L141.51,308.92 L142.01,309.35 L142.50,309.76 L143.00,310.15 L143.50,310.54 L143.99,310.92 L144.49,311.28 L144.98,311.63 L145.48,311.96 L145.98,312.28 L146.47,312.59 L146.97,312.89 L147.46,313.17 L147.96,313.44 L148.46,313.72 L148.95,313.98 L149.45,314.23 L149.94,314.48 L150.44,314.72 L150.94,314.94 L151.43,315.15 L151.93,315.35 L152.42,315.53 L152.92,315.69 L153.42,315.83 L153.91,315.96 L154.41,316.07 L154.90,316.19 L155.40,316.29 L155.90,316.39 L156.39,316.49 L156.89,316.58 L157.38,316.67 L157.88,316.75 L158.38,316.83 L158.87,316.91 L159.37,316.99 L159.86,317.06 L160.36,317.13 L160.86,317.20 L161.35,317.27 L161.85,317.33 L162.34,317.40 L162.84,317.46 L163.34,317.53 L163.83,317.60 L164.33,317.66 L164.82,317.73 L165.32,317.80 L165.82,317.87 L166.31,317.95 L166.81,318.02 L167.30,318.09 L167.80,318.17 L168.30,318.24 L168.79,318.32 L169.29,318.40 L169.78,318.47 L170.28,318.54 L170.78,318.62 L171.27,318.69 L171.77,318.76 L172.26,318.83 L172.76,318.90 L173.26,318.97 L173.75,319.03 L174.25,319.10 L174.74,319.16 L175.24,319.21 L175.74,319.27 L176.23,319.32 L176.73,319.37 L177.22,319.42 L177.72,319.46 L178.22,319.50 L178.71,319.54 L179.21,319.58 L179.70,319.60 L180.20,319.60 L180.70,319.60 L181.19,319.60 L181.69,319.60 L182.18,319.60 L182.68,319.60 L183.18,319.60 L183.67,319.60 L184.17,319.60 L184.66,319.60 L185.16,319.60 L185.66,319.60 L186.15,319.60 L186.65,319.60 L187.14,319.60 L187.64,319.60 L188.14,319.60 L188.63,319.60 L189.13,319.60 L189.62,319.60 L190.12,319.60 L190.62,319.60 L191.11,319.60 L191.61,319.60 L192.10,319.60 L192.60,319.60 L193.10,319.60 L193.59,319.60 L194.09,319.60 L194.58,319.60 L195.08,319.60 L195.58,319.60 L196.07,319.60 L196.57,319.60 L197.06,319.60 L197.56,319.60 L198.06,319.60 L198.55,319.60 L199.05,319.60 L199.54,319.60 L200.04,319.60 L200.54,319.60 L201.03,319.60 L201.53,319.60 L202.02,319.60 L202.52,319.60 L203.02,319.60 L203.51,319.60 L204.01,319.60 L204.50,319.60 L205.00,319.60 L205.50,319.60 L205.99,319.60 L206.49,319.60 L206.98,319.60" fill="none" stroke="#000000" stroke-width="2.0" stroke-linejoin="round" stroke-linecap="butt"/>
<path d="M100.34,206.76 L102.33,215.51 L104.31,224.13 L106.30,230.76 L108.28,236.58 L108.78,238.86 L109.27,241.15 L109.77,243.46 L110.26,245.74 L110.76,247.93 L111.26,250.15 L111.75,252.53 L112.25,255.23 L112.74,258.81 L113.24,262.44 L113.74,264.77 L114.23,266.58 L114.73,268.19 L115.22,269.73 L115.72,271.06 L116.22,272.04 L116.71,272.57 L117.21,272.86 L117.70,273.21 L118.20,273.90 L118.70,274.98 L119.19,276.19 L119.69,277.30 L120.18,278.40 L120.68,279.52 L121.18,280.65 L121.67,281.76 L122.17,282.82 L122.66,283.81 L123.16,284.71 L123.66,285.53 L124.15,286.31 L124.65,287.04 L125.14,287.77 L125.64,288.50 L126.14,289.25 L126.63,290.05 L127.13,290.89 L127.62,291.75 L128.12,292.61 L128.62,293.45 L129.11,294.25 L129.61,295.00 L130.10,295.75 L130.60,296.49 L131.10,297.22 L131.59,297.94 L132.09,298.66 L132.58,299.36 L133.08,300.05 L133.58,300.73 L134.07,301.39 L134.57,302.03 L135.06,302.66 L135.56,303.26 L136.06,303.84 L136.55,304.40 L137.05,304.93 L137.54,305.43 L138.04,305.92 L138.54,306.41 L139.03,306.89 L139.53,307.35 L140.02,307.81 L140.52,308.26 L141.02,308.70 L141.51,309.12 L142.01,309.54 L142.50,309.95 L143.00,310.34 L143.50,310.72 L143.99,311.09 L144.49,311.44 L144.98,311.79 L145.48,312.12 L145.98,312.43 L146.47,312.73 L146.97,313.02 L147.46,313.29 L147.96,313.55 L148.46,313.81 L148.95,314.06 L149.45,314.31 L149.94,314.54 L150.44,314.77 L150.94,314.98 L151.43,315.18 L151.93,315.36 L152.42,315.54 L152.92,315.69 L153.42,315.83 L153.91,315.95 L154.41,316.07 L154.90,316.18 L155.40,316.29 L155.90,316.39 L156.39,316.48 L156.89,316.57 L157.38,316.66 L157.88,316.75 L158.38,316.83 L158.87,316.91 L159.37,316.98 L159.86,317.05 L160.36,317.12 L160.86,317.19 L161.35,317.26 L161.85,317.33 L162.34,317.40 L162.84,317.46 L163.34,317.53 L163.83,317.59 L164.33,317.66 L164.82,317.73 L165.32,317.80 L165.82,317.87 L166.31,317.95 L166.81,318.02 L167.30,318.09 L167.80,318.17 L168.30,318.24 L168.79,318.32 L169.29,318.40 L169.78,318.47 L170.28,318.54 L170.78,318.62 L171.27,318.69 L171.77,318.76 L172.26,318.83 L172.76,318.90 L173.26,318.97 L173.75,319.03 L174.25,319.10 L174.74,319.16 L175.24,319.21 L175.74,319.27 L176.23,319.32 L176.73,319.37 L177.22,319.42 L177.72,319.46 L178.22,319.50 L178.71,319.54 L179.21,319.58 L179.70,319.60 L180.20,319.60 L180.70,319.60 L181.19,319.60 L181.69,319.60 L182.18,319.60 L182.68,319.60 L183.18,319.60 L183.67,319.60 L184.17,319.60 L184.66,319.60 L185.16,319.60 L185.66,319.60 L186.15,319.60 L186.65,319.60 L187.14,319.60 L187.64,319.60 L188.14,319.60 L188.63,319.60 L189.13,319.60 L189.62,319.60 L190.12,319.60 L190.62,319.60 L191.11,319.60 L191.61,319.60 L192.10,319.60 L192.60,319.60 L193.10,319.60 L193.59,319.60 L194.09,319.60 L194.58,319.60 L195.08,319.60 L195.58,319.60 L196.07,319.60 L196.57,319.60 L197.06,319.60 L197.56,319.60 L198.06,319.60 L198.55,319.60 L199.05,319.60 L199.54,319.60 L200.04,319.60 L200.54,319.60 L201.03,319.60 L201.53,319.60 L202.02,319.60 L202.52,319.60 L203.02,319.60 L203.51,319.60 L204.01,319.60 L204.50,319.60 L205.00,319.60 L205.50,319.60 L205.99,319.60 L206.49,319.60 L206.98,319.60" fill="none" stroke="#ff0000" stroke-width="2.0" stroke-linejoin="round" stroke-linecap="butt"/>
<path d="M100.34,200.26 L102.33,209.81 L104.31,218.82 L106.30,227.44 L108.28,235.76 L108.78,237.33 L109.27,239.08 L109.77,240.98 L110.26,243.01 L110.76,245.37 L111.26,247.97 L111.75,250.47 L112.25,252.65 L112.74,254.70 L113.24,256.64 L113.74,258.49 L114.23,260.25 L114.73,261.91 L115.22,263.47 L115.72,264.96 L116.22,266.42 L116.71,267.89 L117.21,269.40 L117.70,271.00 L118.20,272.63 L118.70,274.22 L119.19,275.70 L119.69,277.00 L120.18,278.20 L120.68,279.34 L121.18,280.41 L121.67,281.43 L122.17,282.40 L122.66,283.32 L123.16,284.21 L123.66,285.03 L124.15,285.80 L124.65,286.53 L125.14,287.26 L125.64,287.99 L126.14,288.75 L126.63,289.57 L127.13,290.49 L127.62,291.46 L128.12,292.41 L128.62,293.27 L129.11,293.97 L129.61,294.47 L130.10,294.83 L130.60,295.13 L131.10,295.45 L131.59,295.86 L132.09,296.39 L132.58,297.03 L133.08,297.76 L133.58,298.55 L134.07,299.39 L134.57,300.26 L135.06,301.14 L135.56,302.01 L136.06,302.85 L136.55,303.63 L137.05,304.35 L137.54,304.98 L138.04,305.58 L138.54,306.16 L139.03,306.71 L139.53,307.25 L140.02,307.75 L140.52,308.23 L141.02,308.68 L141.51,309.10 L142.01,309.49 L142.50,309.86 L143.00,310.22 L143.50,310.56 L143.99,310.89 L144.49,311.20 L144.98,311.50 L145.48,311.80 L145.98,312.08 L146.47,312.37 L146.97,312.64 L147.46,312.92 L147.96,313.20 L148.46,313.48 L148.95,313.76 L149.45,314.04 L149.94,314.32 L150.44,314.58 L150.94,314.83 L151.43,315.07 L151.93,315.29 L152.42,315.50 L152.92,315.67 L153.42,315.83 L153.91,315.96 L154.41,316.08 L154.90,316.19 L155.40,316.30 L155.90,316.40 L156.39,316.50 L156.89,316.59 L157.38,316.68 L157.88,316.76 L158.38,316.84 L158.87,316.92 L159.37,317.00 L159.86,317.07 L160.36,317.14 L160.86,317.21 L161.35,317.27 L161.85,317.34 L162.34,317.40 L162.84,317.47 L163.34,317.53 L163.83,317.60 L164.33,317.66 L164.82,317.73 L165.32,317.80 L165.82,317.87 L166.31,317.95 L166.81,318.02 L167.30,318.09 L167.80,318.17 L168.30,318.24 L168.79,318.32 L169.29,318.40 L169.78,318.47 L170.28,318.54 L170.78,318.62 L171.27,318.69 L171.77,318.76 L172.26,318.83 L172.76,318.90 L173.26,318.97 L173.75,319.03 L174.25,319.10 L174.74,319.16 L175.24,319.21 L175.74,319.27 L176.23,319.32 L176.73,319.37 L177.22,319.42 L177.72,319.46 L178.22,319.50 L178.71,319.54 L179.21,319.58 L179.70,319.60 L180.20,319.60 L180.70,319.60 L181.19,319.60 L181.69,319.60 L182.18,319.60 L182.68,319.60 L183.18,319.60 L183.67,319.60 L184.17,319.60 L184.66,319.60 L185.16,319.60 L185.66,319.60 L186.15,319.60 L186.65,319.60 L187.14,319.60 L187.64,319.60 L188.14,319.60 L188.63,319.60 L189.13,319.60 L189.62,319.60 L190.12,319.60 L190.62,319.60 L191.11,319.60 L191.61,319.60 L192.10,319.60 L192.60,319.60 L193.10,319.60 L193.59,319.60 L194.09,319.60 L194.58,319.60 L195.08,319.60 L195.58,319.60 L196.07,319.60 L196.57,319.60 L197.06,319.60 L197.56,319.60 L198.06,319.60 L198.55,319.60 L199.05,319.60 L199.54,319.60 L200.04,319.60 L200.54,319.60 L201.03,319.60 L201.53,319.60 L202.02,319.60 L202.52,319.60 L203.02,319.60 L203.51,319.60 L204.01,319.60 L204.50,319.60 L205.00,319.60 L205.50,319.60 L205.99,319.60 L206.49,319.60 L206.98,319.60" fill="none" stroke="#00ff00" stroke-width="2.0" stroke-linejoin="round" stroke-linecap="butt"/>
<path d="M100.34,208.48 L102.33,218.16 L104.31,226.78 L106.30,234.07 L108.28,240.16 L108.78,242.39 L109.27,244.67 L109.77,246.99 L110.26,249.35 L110.76,251.99 L111.26,254.70 L111.75,256.98 L112.25,258.43 L112.74,259.46 L113.24,260.51 L113.74,261.88 L114.23,263.42 L114.73,265.01 L115.22,266.57 L115.72,268.26 L116.22,269.96 L116.71,271.44 L117.21,272.47 L117.70,273.11 L118.20,273.63 L118.70,274.24 L119.19,275.16 L119.69,276.39 L120.18,277.79 L120.68,279.24 L121.18,280.57 L121.67,281.79 L122.17,283.01 L122.66,284.21 L123.16,285.35 L123.66,286.40 L124.15,287.33 L124.65,288.16 L125.14,288.92 L125.64,289.64 L126.14,290.35 L126.63,291.08 L127.13,291.84 L127.62,292.61 L128.12,293.38 L128.62,294.14 L129.11,294.88 L129.61,295.61 L130.10,296.32 L130.60,297.03 L131.10,297.73 L131.59,298.42 L132.09,299.10 L132.58,299.77 L133.08,300.44 L133.58,301.08 L134.07,301.73 L134.57,302.36 L135.06,302.99 L135.56,303.61 L136.06,304.21 L136.55,304.81 L137.05,305.39 L137.54,305.95 L138.04,306.50 L138.54,307.04 L139.03,307.57 L139.53,308.09 L140.02,308.60 L140.52,309.11 L141.02,309.60 L141.51,310.09 L142.01,310.61 L142.50,311.15 L143.00,311.68 L143.50,312.20 L143.99,312.68 L144.49,313.10 L144.98,313.45 L145.48,313.71 L145.98,313.91 L146.47,314.07 L146.97,314.21 L147.46,314.34 L147.96,314.46 L148.46,314.59 L148.95,314.74 L149.45,314.91 L149.94,315.11 L150.44,315.34 L150.94,315.59 L151.43,315.85 L151.93,316.11 L152.42,316.35 L152.92,316.57 L153.42,316.75 L153.91,316.91 L154.41,317.05 L154.90,317.19 L155.40,317.32 L155.90,317.44 L156.39,317.55 L156.89,317.65 L157.38,317.74 L157.88,317.81 L158.38,317.88 L158.87,317.94 L159.37,318.00 L159.86,318.06 L160.36,318.12 L160.86,318.17 L161.35,318.22 L161.85,318.26 L162.34,318.31 L162.84,318.35 L163.34,318.40 L163.83,318.44 L164.33,318.48 L164.82,318.52 L165.32,318.57 L165.82,318.61 L166.31,318.66 L166.81,318.70 L167.30,318.75 L167.80,318.80 L168.30,318.84 L168.79,318.89 L169.29,318.93 L169.78,318.98 L170.28,319.02 L170.78,319.06 L171.27,319.11 L171.77,319.15 L172.26,319.19 L172.76,319.23 L173.26,319.27 L173.75,319.31 L174.25,319.35 L174.74,319.39 L175.24,319.42 L175.74,319.46 L176.23,319.49 L176.73,319.53 L177.22,319.56 L177.72,319.59 L178.22,319.60 L178.71,319.60 L179.21,319.60 L179.70,319.60 L180.20,319.60 L180.70,319.60 L181.19,319.60 L181.69,319.60 L182.18,319.60 L182.68,319.60 L183.18,319.60 L183.67,319.60 L184.17,319.60 L184.66,319.60 L185.16,319.60 L185.66,319.60 L186.15,319.60 L186.65,319.60 L187.14,319.60 L187.64,319.60 L188.14,319.60 L188.63,319.60 L189.13,319.60 L189.62,319.60 L190.12,319.60 L190.62,319.60 L191.11,319.60 L191.61,319.60 L192.10,319.60 L192.60,319.60 L193.10,319.60 L193.59,319.60 L194.09,319.60 L194.58,319.60 L195.08,319.60 L195.58,319.60 L196.07,319.60 L196.57,319.60 L197.06,319.60 L197.56,319.60 L198.06,319.60 L198.55,319.60 L199.05,319.60 L199.54,319.60 L200.04,319.60 L200.54,319.60 L201.03,319.60 L201.53,319.60 L202.02,319.60 L202.52,319.60 L203.02,319.60 L203.51,319.60 L204.01,319.60 L204.50,319.60 L205.00,319.60 L205.50,319.60 L205.99,319.60 L206.49,319.60 L206.98,319.60" fill="none" stroke="#00ffff" stroke-width="2.0" stroke-linejoin="round" stroke-linecap="butt"/>
<path d="M100.34,199.60 L102.33,208.22 L104.31,216.17 L106.30,224.13 L108.28,231.67 L108.78,233.54 L109.27,235.34 L109.77,237.07 L110.26,238.77 L110.76,240.49 L111.26,242.09 L111.75,243.45 L112.25,244.42 L112.74,245.11 L113.24,245.69 L113.74,246.34 L114.23,247.26 L114.73,248.95 L115.22,251.69 L115.72,254.31 L116.22,256.41 L116.71,258.38 L117.21,260.05 L117.70,261.27 L118.20,262.15 L118.70,263.37 L119.19,265.10 L119.69,267.10 L120.18,269.09 L120.68,271.28 L121.18,273.77 L121.67,276.13 L122.17,277.90 L122.66,278.64 L123.16,278.79 L123.66,278.87 L124.15,278.95 L124.65,279.10 L125.14,279.88 L125.64,281.52 L126.14,283.36 L126.63,284.75 L127.13,285.38 L127.62,285.78 L128.12,286.13 L128.62,286.57 L129.11,287.25 L129.61,288.29 L130.10,289.52 L130.60,290.78 L131.10,291.89 L131.59,292.71 L132.09,293.36 L132.58,293.92 L133.08,294.45 L133.58,295.03 L134.07,295.70 L134.57,296.67 L135.06,297.98 L135.56,299.33 L136.06,300.37 L136.55,300.78 L137.05,300.78 L137.54,300.78 L138.04,300.78 L138.54,301.00 L139.03,301.80 L139.53,302.93 L140.02,304.10 L140.52,305.02 L141.02,305.62 L141.51,306.14 L142.01,306.62 L142.50,307.05 L143.00,307.46 L143.50,307.85 L143.99,308.25 L144.49,308.65 L144.98,309.06 L145.48,309.45 L145.98,309.81 L146.47,310.13 L146.97,310.39 L147.46,310.58 L147.96,310.72 L148.46,310.81 L148.95,310.89 L149.45,310.99 L149.94,311.11 L150.44,311.29 L150.94,311.61 L151.43,312.03 L151.93,312.49 L152.42,312.95 L152.92,313.36 L153.42,313.65 L153.91,313.86 L154.41,314.04 L154.90,314.19 L155.40,314.34 L155.90,314.47 L156.39,314.60 L156.89,314.73 L157.38,314.88 L157.88,315.04 L158.38,315.20 L158.87,315.36 L159.37,315.53 L159.86,315.70 L160.36,315.87 L160.86,316.04 L161.35,316.21 L161.85,316.37 L162.34,316.54 L162.84,316.69 L163.34,316.85 L163.83,317.00 L164.33,317.14 L164.82,317.27 L165.32,317.39 L165.82,317.50 L166.31,317.61 L166.81,317.72 L167.30,317.82 L167.80,317.93 L168.30,318.03 L168.79,318.13 L169.29,318.22 L169.78,318.32 L170.28,318.41 L170.78,318.50 L171.27,318.59 L171.77,318.68 L172.26,318.76 L172.76,318.84 L173.26,318.92 L173.75,318.99 L174.25,319.06 L174.74,319.13 L175.24,319.19 L175.74,319.25 L176.23,319.31 L176.73,319.36 L177.22,319.41 L177.72,319.46 L178.22,319.50 L178.71,319.54 L179.21,319.58 L179.70,319.60 L180.20,319.60 L180.70,319.60 L181.19,319.60 L181.69,319.60 L182.18,319.60 L182.68,319.60 L183.18,319.60 L183.67,319.60 L184.17,319.60 L184.66,319.60 L185.16,319.60 L185.66,319.60 L186.15,319.60 L186.65,319.60 L187.14,319.60 L187.64,319.60 L188.14,319.60 L188.63,319.60 L189.13,319.60 L189.62,319.60 L190.12,319.60 L190.62,319.60 L191.11,319.60 L191.61,319.60 L192.10,319.60 L192.60,319.60 L193.10,319.60 L193.59,319.60 L194.09,319.60 L194.58,319.60 L195.08,319.60 L195.58,319.60 L196.07,319.60 L196.57,319.60 L197.06,319.60 L197.56,319.60 L198.06,319.60 L198.55,319.60 L199.05,319.60 L199.54,319.60 L200.04,319.60 L200.54,319.60 L201.03,319.60 L201.53,319.60 L202.02,319.60 L202.52,319.60 L203.02,319.60 L203.51,319.60 L204.01,319.60 L204.50,319.60 L205.00,319.60 L205.50,319.60 L205.99,319.60 L206.49,319.60 L206.98,319.60" fill="none" stroke="#0000ff" stroke-width="2.0" stroke-linejoin="round" stroke-linecap="butt"/>
<path d="M100.34,191.64 L102.33,200.92 L104.31,209.54 L106.30,218.16 L108.28,226.54 L108.78,228.78 L109.27,231.07 L109.77,233.43 L110.26,235.89 L110.76,238.37 L111.26,240.83 L111.75,243.31 L112.25,245.79 L112.74,248.14 L113.24,250.25 L113.74,252.21 L114.23,253.97 L114.73,255.47 L115.22,256.81 L115.72,258.05 L116.22,259.21 L116.71,260.30 L117.21,261.23 L117.70,262.14 L118.20,263.18 L118.70,264.53 L119.19,266.40 L119.69,268.43 L120.18,270.30 L120.68,272.19 L121.18,274.03 L121.67,275.73 L122.17,277.22 L122.66,278.56 L123.16,279.81 L123.66,280.97 L124.15,282.06 L124.65,283.07 L125.14,284.01 L125.64,284.93 L126.14,285.85 L126.63,286.81 L127.13,287.87 L127.62,289.01 L128.12,290.18 L128.62,291.31 L129.11,292.33 L129.61,293.19 L130.10,293.97 L130.60,294.69 L131.10,295.37 L131.59,296.02 L132.09,296.65 L132.58,297.29 L133.08,297.94 L133.58,298.63 L134.07,299.35 L134.57,300.09 L135.06,300.82 L135.56,301.55 L136.06,302.25 L136.55,302.92 L137.05,303.53 L137.54,304.08 L138.04,304.59 L138.54,305.07 L139.03,305.52 L139.53,305.95 L140.02,306.37 L140.52,306.78 L141.02,307.18 L141.51,307.59 L142.01,307.99 L142.50,308.38 L143.00,308.77 L143.50,309.14 L143.99,309.52 L144.49,309.89 L144.98,310.27 L145.48,310.65 L145.98,311.05 L146.47,311.48 L146.97,311.91 L147.46,312.34 L147.96,312.74 L148.46,313.10 L148.95,313.42 L149.45,313.67 L149.94,313.87 L150.44,314.04 L150.94,314.18 L151.43,314.31 L151.93,314.44 L152.42,314.58 L152.92,314.72 L153.42,314.89 L153.91,315.10 L154.41,315.34 L154.90,315.60 L155.40,315.87 L155.90,316.13 L156.39,316.37 L156.89,316.58 L157.38,316.74 L157.88,316.86 L158.38,316.97 L158.87,317.07 L159.37,317.16 L159.86,317.24 L160.36,317.32 L160.86,317.39 L161.35,317.46 L161.85,317.52 L162.34,317.59 L162.84,317.65 L163.34,317.72 L163.83,317.78 L164.33,317.85 L164.82,317.92 L165.32,317.99 L165.82,318.07 L166.31,318.14 L166.81,318.21 L167.30,318.28 L167.80,318.36 L168.30,318.43 L168.79,318.50 L169.29,318.57 L169.78,318.64 L170.28,318.71 L170.78,318.78 L171.27,318.85 L171.77,318.91 L172.26,318.98 L172.76,319.04 L173.26,319.10 L173.75,319.16 L174.25,319.21 L174.74,319.26 L175.24,319.31 L175.74,319.36 L176.23,319.41 L176.73,319.45 L177.22,319.48 L177.72,319.52 L178.22,319.56 L178.71,319.59 L179.21,319.60 L179.70,319.60 L180.20,319.60 L180.70,319.60 L181.19,319.60 L181.69,319.60 L182.18,319.60 L182.68,319.60 L183.18,319.60 L183.67,319.60 L184.17,319.60 L184.66,319.60 L185.16,319.60 L185.66,319.60 L186.15,319.60 L186.65,319.60 L187.14,319.60 L187.64,319.60 L188.14,319.60 L188.63,319.60 L189.13,319.60 L189.62,319.60 L190.12,319.60 L190.62,319.60 L191.11,319.60 L191.61,319.60 L192.10,319.60 L192.60,319.60 L193.10,319.60 L193.59,319.60 L194.09,319.60 L194.58,319.60 L195.08,319.60 L195.58,319.60 L196.07,319.60 L196.57,319.60 L197.06,319.60 L197.56,319.60 L198.06,319.60 L198.55,319.60 L199.05,319.60 L199.54,319.60 L200.04,319.60 L200.54,319.60 L201.03,319.60 L201.53,319.60 L202.02,319.60 L202.52,319.60 L203.02,319.60 L203.51,319.60 L204.01,319.60 L204.50,319.60 L205.00,319.60 L205.50,319.60 L205.99,319.60 L206.49,319.60 L206.98,319.60 L207.48,319.60 L207.98,319.60 L208.47,319.60 L208.97,319.60 L209.46,319.60 L209.96,319.60 L210.46,319.60 L210.95,319.60 L211.45,319.60 L211.94,319.60 L212.44,319.60 L212.94,319.60 L213.43,319.60 L213.93,319.60 L214.42,319.60 L214.92,319.60 L215.42,319.60 L215.91,319.60 L216.41,319.60 L216.90,319.60 L217.40,319.60 L217.90,319.60 L218.39,319.60 L218.89,319.60 L219.38,319.60 L219.88,319.60 L220.38,319.60 L220.87,319.60 L221.37,319.60 L221.86,319.60 L222.36,319.60 L222.86,319.60 L223.35,319.60 L223.85,319.60 L224.34,319.60 L224.84,319.60 L225.34,319.60 L225.83,319.60 L226.33,319.60 L226.82,319.60 L227.32,319.60 L227.82,319.60 L228.31,319.60 L228.81,319.60 L229.30,319.60 L229.80,319.60 L230.30,319.60 L230.79,319.60 L231.29,319.60 L231.78,319.60 L232.28,319.60 L232.78,319.60 L233.27,319.60 L233.77,319.60 L234.26,319.60 L234.76,319.60 L235.26,319.60 L235.75,319.60 L236.25,319.60 L236.74,319.60 L237.24,319.60 L237.74,319.60 L238.23,319.60 L238.73,319.60 L239.22,319.60 L239.72,319.60 L240.22,319.60 L240.71,319.60 L241.21,319.60 L241.70,319.60 L242.20,319.60 L242.70,319.60 L243.19,319.60 L243.69,319.60 L244.18,319.60 L244.68,319.60 L245.18,319.60 L245.67,319.60 L246.17,319.60 L246.66,319.60 L247.16,319.60 L247.66,319.60 L248.15,319.60 L248.65,319.60 L249.14,319.60 L249.64,319.60 L250.14,319.60 L250.63,319.60 L251.13,319.60 L251.62,319.60 L252.12,319.60 L252.62,319.60 L253.11,319.60 L253.61,319.60 L254.10,319.60 L254.60,319.60 L255.10,319.60 L255.59,319.60 L256.09,319.60 L256.58,319.60 L257.08,319.60 L257.58,319.60 L258.07,319.60 L258.57,319.60 L259.06,319.60 L259.56,319.60 L260.06,319.60 L260.55,319.60 L261.05,319.60 L261.54,319.60 L262.04,319.60 L262.54,319.60 L263.03,319.60 L263.53,319.60 L264.02,319.60 L264.52,319.60 L265.02,319.60 L265.51,319.60 L266.01,319.60 L266.50,319.60 L267.00,319.60 L267.50,319.60 L267.99,319.60 L268.49,319.60 L268.98,319.60 L269.48,319.60 L269.98,319.60 L270.47,319.60 L270.97,319.60 L271.46,319.60 L271.96,319.60 L272.46,319.60 L272.95,319.60 L273.45,319.60 L273.94,319.60 L274.44,319.60 L274.94,319.60 L275.43,319.60 L275.93,319.60 L276.42,319.60 L276.92,319.60 L277.42,319.60 L277.91,319.60 L278.41,319.60 L278.90,319.60 L279.40,319.60 L279.90,319.60 L280.39,319.60 L280.89,319.60 L281.38,319.60 L281.88,319.60 L282.38,319.60 L282.87,319.60 L283.37,319.60 L283.86,319.60 L284.36,319.60 L284.86,319.60 L285.35,319.60 L285.85,319.60 L286.34,319.60 L286.84,319.60 L287.34,319.60 L287.83,319.60 L288.33,319.60 L288.82,319.60 L289.32,319.60 L289.82,319.60 L290.31,319.60 L290.81,319.60 L291.30,319.60 L291.80,319.60 L292.30,319.60 L292.79,319.60 L293.29,319.60 L293.78,319.60 L294.28,319.60 L294.78,319.60 L295.27,319.60 L295.77,319.60 L296.26,319.60 L296.76,319.60 L297.26,319.60 L297.75,319.60 L298.25,319.60 L298.74,319.60 L299.24,319.60 L299.74,319.60 L300.23,319.60 L300.73,319.60 L301.22,319.60 L301.72,319.60 L302.22,319.60 L302.71,319.60 L303.21,319.60 L303.70,319.60 L304.20,319.60 L304.70,319.60 L305.19,319.60 L305.69,319.60 L306.18,319.60 L306.68,319.60 L307.18,319.60 L307.67,319.60 L308.17,319.60 L308.66,319.60 L309.16,319.60 L309.66,319.60 L310.15,319.60 L310.65,319.60 L311.14,319.60 L311.64,319.60 L312.14,319.60 L312.63,319.60 L313.13,319.60 L313.62,319.60 L314.12,319.60 L314.62,319.60 L315.11,319.60 L315.61,319.60 L316.10,319.60 L316.60,319.60 L317.10,319.60 L317.59,319.60 L318.09,319.60 L318.58,319.60 L319.08,319.60 L319.58,319.60 L320.07,319.60 L320.57,319.60 L321.06,319.60 L321.56,319.60 L322.06,319.60 L322.55,319.60" fill="none" stroke="#ff00ff" stroke-width="2.0" stroke-linejoin="round" stroke-linecap="butt"/>
<rect x="147.3" y="193.4" width="198.7" height="108.4" fill="#ffffff"/>
<defs><clipPath id="ic"><rect x="147.3" y="193.4" width="198.7" height="108.4"/></clipPath></defs>
<line x1="172.50" y1="193.40" x2="172.50" y2="196.20" stroke="#1e1e1e" stroke-width="1.5"/>
<line x1="172.50" y1="301.80" x2="172.50" y2="299.00" stroke="#1e1e1e" stroke-width="1.5"/>
<line x1="197.00" y1="193.40" x2="197.00" y2="196.20" stroke="#1e1e1e" stroke-width="1.5"/>
<line x1="197.00" y1="301.80" x2="197.00" y2="299.00" stroke="#1e1e1e" stroke-width="1.5"/>
<line x1="221.50" y1="193.40" x2="221.50" y2="196.20" stroke="#1e1e1e" stroke-width="1.5"/>
<line x1="221.50" y1="301.80" x2="221.50" y2="299.00" stroke="#1e1e1e" stroke-width="1.5"/>
<line x1="246.00" y1="193.40" x2="246.00" y2="196.20" stroke="#1e1e1e" stroke-width="1.5"/>
<line x1="246.00" y1="301.80" x2="246.00" y2="299.00" stroke="#1e1e1e" stroke-width="1.5"/>
<line x1="270.50" y1="193.40" x2="270.50" y2="196.20" stroke="#1e1e1e" stroke-width="1.5"/>
<line x1="270.50" y1="301.80" x2="270.50" y2="299.00" stroke="#1e1e1e" stroke-width="1.5"/>
<line x1="295.00" y1="193.40" x2="295.00" y2="196.20" stroke="#1e1e1e" stroke-width="1.5"/>
<line x1="295.00" y1="301.80" x2="295.00" y2="299.00" stroke="#1e1e1e" stroke-width="1.5"/>
<line x1="319.50" y1="193.40" x2="319.50" y2="196.20" stroke="#1e1e1e" stroke-width="1.5"/>
<line x1="319.50" y1="301.80" x2="319.50" y2="299.00" stroke="#1e1e1e" stroke-width="1.5"/>
<rect x="147.3" y="193.4" width="198.7" height="108.4" fill="none" stroke="#2a2020" stroke-width="1.8"/>
<g clip-path="url(#ic)">
<path d="M147.00,234.20 L147.70,234.20 L148.40,234.84 L149.10,235.55 L149.80,236.31 L150.50,237.12 L151.20,237.98 L151.90,238.87 L152.60,239.89 L153.30,241.11 L154.00,242.34 L154.70,243.43 L155.40,244.18 L156.10,244.67 L156.80,245.04 L157.50,245.35 L158.20,245.66 L158.90,246.06 L159.60,246.60 L160.30,247.55 L161.00,248.90 L161.70,250.26 L162.40,251.32 L163.10,252.24 L163.80,253.11 L164.50,253.94 L165.20,254.72 L165.90,255.48 L166.60,256.21 L167.30,256.93 L168.00,257.64 L168.70,258.35 L169.40,259.08 L170.10,259.82 L170.80,260.57 L171.50,261.32 L172.20,262.07 L172.90,262.80 L173.60,263.52 L174.30,264.21 L175.00,264.87 L175.70,265.50 L176.40,266.10 L177.10,266.68 L177.80,267.26 L178.50,267.81 L179.20,268.36 L179.90,268.88 L180.60,269.40 L181.30,269.90 L182.00,270.38 L182.70,270.85 L183.40,271.30 L184.10,271.74 L184.80,272.16 L185.50,272.55 L186.20,272.93 L186.90,273.29 L187.60,273.64 L188.30,273.99 L189.00,274.33 L189.70,274.67 L190.40,275.01 L191.10,275.36 L191.80,275.72 L192.50,276.09 L193.20,276.48 L193.90,276.89 L194.60,277.31 L195.30,277.74 L196.00,278.17 L196.70,278.60 L197.40,279.03 L198.10,279.44 L198.80,279.85 L199.50,280.24 L200.20,280.60 L200.90,280.96 L201.60,281.32 L202.30,281.67 L203.00,282.02 L203.70,282.37 L204.40,282.71 L205.10,283.06 L205.80,283.39 L206.50,283.73 L207.20,284.06 L207.90,284.39 L208.60,284.71 L209.30,285.03 L210.00,285.34 L210.70,285.65 L211.40,285.96 L212.10,286.26 L212.80,286.55 L213.50,286.84 L214.20,287.13 L214.90,287.41 L215.60,287.68 L216.30,287.95 L217.00,288.21 L217.70,288.47 L218.40,288.72 L219.10,288.96 L219.80,289.20 L220.50,289.43 L221.20,289.66 L221.90,289.89 L222.60,290.12 L223.30,290.34 L224.00,290.56 L224.70,290.78 L225.40,291.00 L226.10,291.21 L226.80,291.42 L227.50,291.63 L228.20,291.84 L228.90,292.04 L229.60,292.24 L230.30,292.44 L231.00,292.63 L231.70,292.83 L232.40,293.02 L233.10,293.20 L233.80,293.38 L234.50,293.56 L235.20,293.74 L235.90,293.91 L236.60,294.08 L237.30,294.25 L238.00,294.41 L238.70,294.57 L239.40,294.73 L240.10,294.88 L240.80,295.03 L241.50,295.17 L242.20,295.32 L242.90,295.45 L243.60,295.59 L244.30,295.72 L245.00,295.85 L245.70,295.97 L246.40,296.10 L247.10,296.22 L247.80,296.35 L248.50,296.47 L249.20,296.59 L249.90,296.70 L250.60,296.82 L251.30,296.93 L252.00,297.04 L252.70,297.14 L253.40,297.24 L254.10,297.34 L254.80,297.44 L255.50,297.53 L256.20,297.61 L256.90,297.70 L257.60,297.77 L258.30,297.84 L259.00,297.91 L259.70,297.97 L260.40,298.03 L261.10,298.09 L261.80,298.14 L262.50,298.19 L263.20,298.25 L263.90,298.30 L264.60,298.34 L265.30,298.39 L266.00,298.44 L266.70,298.48 L267.40,298.52 L268.10,298.56 L268.80,298.61 L269.50,298.65 L270.20,298.68 L270.90,298.72 L271.60,298.76 L272.30,298.80 L273.00,298.83 L273.70,298.87 L274.40,298.90 L275.10,298.93 L275.80,298.97 L276.50,299.00 L277.20,299.03 L277.90,299.06 L278.60,299.09 L279.30,299.12 L280.00,299.15 L280.70,299.19 L281.40,299.22 L282.10,299.25 L282.80,299.28 L283.50,299.31 L284.20,299.34 L284.90,299.37 L285.60,299.40 L286.30,299.43 L287.00,299.46 L287.70,299.49 L288.40,299.52 L289.10,299.56 L289.80,299.59 L290.50,299.62 L291.20,299.66 L291.90,299.69 L292.60,299.73 L293.30,299.76 L294.00,299.79 L294.70,299.83 L295.40,299.86 L296.10,299.90 L296.80,299.93 L297.50,299.97 L298.20,300.00 L298.90,300.04 L299.60,300.07" fill="none" stroke="#000000" stroke-width="2.6" stroke-linejoin="round" stroke-linecap="butt"/>
<path d="M147.00,233.50 L147.70,233.50 L148.40,234.55 L149.10,235.60 L149.80,236.65 L150.50,237.71 L151.20,238.78 L151.90,239.85 L152.60,240.90 L153.30,241.92 L154.00,242.93 L154.70,243.94 L155.40,244.98 L156.10,246.06 L156.80,247.21 L157.50,248.45 L158.20,249.83 L158.90,251.57 L159.60,253.39 L160.30,254.92 L161.00,256.05 L161.70,257.01 L162.40,257.85 L163.10,258.61 L163.80,259.34 L164.50,260.07 L165.20,260.77 L165.90,261.40 L166.60,261.96 L167.30,262.43 L168.00,262.76 L168.70,262.98 L169.40,263.13 L170.10,263.26 L170.80,263.40 L171.50,263.60 L172.20,263.91 L172.90,264.35 L173.60,264.87 L174.30,265.42 L175.00,265.98 L175.70,266.50 L176.40,267.00 L177.10,267.50 L177.80,268.02 L178.50,268.54 L179.20,269.06 L179.90,269.58 L180.60,270.09 L181.30,270.59 L182.00,271.08 L182.70,271.56 L183.40,272.01 L184.10,272.44 L184.80,272.85 L185.50,273.23 L186.20,273.60 L186.90,273.96 L187.60,274.31 L188.30,274.64 L189.00,274.98 L189.70,275.31 L190.40,275.65 L191.10,275.99 L191.80,276.34 L192.50,276.70 L193.20,277.07 L193.90,277.45 L194.60,277.84 L195.30,278.23 L196.00,278.63 L196.70,279.03 L197.40,279.42 L198.10,279.81 L198.80,280.18 L199.50,280.55 L200.20,280.90 L200.90,281.24 L201.60,281.59 L202.30,281.93 L203.00,282.27 L203.70,282.61 L204.40,282.95 L205.10,283.28 L205.80,283.62 L206.50,283.95 L207.20,284.27 L207.90,284.60 L208.60,284.92 L209.30,285.24 L210.00,285.55 L210.70,285.86 L211.40,286.16 L212.10,286.46 L212.80,286.76 L213.50,287.05 L214.20,287.34 L214.90,287.62 L215.60,287.89 L216.30,288.16 L217.00,288.42 L217.70,288.67 L218.40,288.92 L219.10,289.17 L219.80,289.40 L220.50,289.63 L221.20,289.86 L221.90,290.08 L222.60,290.31 L223.30,290.53 L224.00,290.75 L224.70,290.96 L225.40,291.18 L226.10,291.39 L226.80,291.60 L227.50,291.80 L228.20,292.01 L228.90,292.21 L229.60,292.41 L230.30,292.60 L231.00,292.79 L231.70,292.98 L232.40,293.17 L233.10,293.35 L233.80,293.53 L234.50,293.71 L235.20,293.88 L235.90,294.05 L236.60,294.22 L237.30,294.38 L238.00,294.54 L238.70,294.70 L239.40,294.85 L240.10,295.00 L240.80,295.15 L241.50,295.29 L242.20,295.43 L242.90,295.56 L243.60,295.69 L244.30,295.82 L245.00,295.94 L245.70,296.06 L246.40,296.18 L247.10,296.30 L247.80,296.42 L248.50,296.54 L249.20,296.65 L249.90,296.76 L250.60,296.87 L251.30,296.97 L252.00,297.08 L252.70,297.18 L253.40,297.27 L254.10,297.37 L254.80,297.46 L255.50,297.54 L256.20,297.63 L256.90,297.70 L257.60,297.78 L258.30,297.85 L259.00,297.91 L259.70,297.98 L260.40,298.03 L261.10,298.09 L261.80,298.14 L262.50,298.19 L263.20,298.24 L263.90,298.29 L264.60,298.34 L265.30,298.39 L266.00,298.43 L266.70,298.47 L267.40,298.52 L268.10,298.56 L268.80,298.60 L269.50,298.64 L270.20,298.68 L270.90,298.72 L271.60,298.75 L272.30,298.79 L273.00,298.83 L273.70,298.86 L274.40,298.89 L275.10,298.93 L275.80,298.96 L276.50,298.99 L277.20,299.03 L277.90,299.06 L278.60,299.09 L279.30,299.12 L280.00,299.15 L280.70,299.18 L281.40,299.21 L282.10,299.24 L282.80,299.28 L283.50,299.31 L284.20,299.34 L284.90,299.37 L285.60,299.40 L286.30,299.43 L287.00,299.46 L287.70,299.49 L288.40,299.52 L289.10,299.56 L289.80,299.59 L290.50,299.62 L291.20,299.66 L291.90,299.69 L292.60,299.73 L293.30,299.76 L294.00,299.79 L294.70,299.83 L295.40,299.86 L296.10,299.90 L296.80,299.93 L297.50,299.97 L298.20,300.00 L298.90,300.04 L299.60,300.07" fill="none" stroke="#ff0000" stroke-width="2.6" stroke-linejoin="round" stroke-linecap="butt"/>
<path d="M147.00,233.00 L147.70,233.00 L148.40,233.68 L149.10,234.41 L149.80,235.20 L150.50,236.02 L151.20,236.89 L151.90,237.79 L152.60,238.73 L153.30,239.72 L154.00,240.84 L154.70,242.02 L155.40,243.23 L156.10,244.41 L156.80,245.51 L157.50,246.51 L158.20,247.47 L158.90,248.41 L159.60,249.32 L160.30,250.21 L161.00,251.07 L161.70,251.91 L162.40,252.72 L163.10,253.51 L163.80,254.27 L164.50,255.01 L165.20,255.72 L165.90,256.41 L166.60,257.09 L167.30,257.76 L168.00,258.43 L168.70,259.11 L169.40,259.80 L170.10,260.51 L170.80,261.24 L171.50,261.99 L172.20,262.74 L172.90,263.49 L173.60,264.22 L174.30,264.92 L175.00,265.59 L175.70,266.20 L176.40,266.77 L177.10,267.33 L177.80,267.87 L178.50,268.39 L179.20,268.89 L179.90,269.38 L180.60,269.85 L181.30,270.32 L182.00,270.76 L182.70,271.20 L183.40,271.63 L184.10,272.04 L184.80,272.44 L185.50,272.83 L186.20,273.19 L186.90,273.55 L187.60,273.89 L188.30,274.23 L189.00,274.57 L189.70,274.90 L190.40,275.24 L191.10,275.58 L191.80,275.93 L192.50,276.29 L193.20,276.68 L193.90,277.09 L194.60,277.52 L195.30,277.97 L196.00,278.42 L196.70,278.86 L197.40,279.28 L198.10,279.67 L198.80,280.02 L199.50,280.32 L200.20,280.56 L200.90,280.76 L201.60,280.93 L202.30,281.08 L203.00,281.21 L203.70,281.35 L204.40,281.51 L205.10,281.68 L205.80,281.89 L206.50,282.14 L207.20,282.41 L207.90,282.71 L208.60,283.04 L209.30,283.38 L210.00,283.74 L210.70,284.12 L211.40,284.51 L212.10,284.91 L212.80,285.31 L213.50,285.72 L214.20,286.12 L214.90,286.53 L215.60,286.92 L216.30,287.31 L217.00,287.68 L217.70,288.04 L218.40,288.38 L219.10,288.70 L219.80,289.00 L220.50,289.28 L221.20,289.56 L221.90,289.83 L222.60,290.09 L223.30,290.35 L224.00,290.61 L224.70,290.86 L225.40,291.10 L226.10,291.33 L226.80,291.56 L227.50,291.78 L228.20,291.99 L228.90,292.20 L229.60,292.39 L230.30,292.58 L231.00,292.76 L231.70,292.94 L232.40,293.11 L233.10,293.27 L233.80,293.43 L234.50,293.59 L235.20,293.75 L235.90,293.90 L236.60,294.04 L237.30,294.19 L238.00,294.33 L238.70,294.47 L239.40,294.61 L240.10,294.74 L240.80,294.87 L241.50,295.00 L242.20,295.13 L242.90,295.26 L243.60,295.39 L244.30,295.52 L245.00,295.65 L245.70,295.78 L246.40,295.91 L247.10,296.04 L247.80,296.17 L248.50,296.30 L249.20,296.43 L249.90,296.55 L250.60,296.68 L251.30,296.80 L252.00,296.93 L252.70,297.04 L253.40,297.16 L254.10,297.27 L254.80,297.38 L255.50,297.48 L256.20,297.58 L256.90,297.67 L257.60,297.76 L258.30,297.84 L259.00,297.91 L259.70,297.97 L260.40,298.03 L261.10,298.09 L261.80,298.15 L262.50,298.20 L263.20,298.25 L263.90,298.30 L264.60,298.35 L265.30,298.40 L266.00,298.44 L266.70,298.49 L267.40,298.53 L268.10,298.57 L268.80,298.61 L269.50,298.65 L270.20,298.69 L270.90,298.73 L271.60,298.77 L272.30,298.80 L273.00,298.84 L273.70,298.87 L274.40,298.91 L275.10,298.94 L275.80,298.97 L276.50,299.01 L277.20,299.04 L277.90,299.07 L278.60,299.10 L279.30,299.13 L280.00,299.16 L280.70,299.19 L281.40,299.22 L282.10,299.25 L282.80,299.28 L283.50,299.31 L284.20,299.34 L284.90,299.37 L285.60,299.40 L286.30,299.43 L287.00,299.46 L287.70,299.49 L288.40,299.53 L289.10,299.56 L289.80,299.59 L290.50,299.62 L291.20,299.66 L291.90,299.69 L292.60,299.73 L293.30,299.76 L294.00,299.79 L294.70,299.83 L295.40,299.86 L296.10,299.90 L296.80,299.93 L297.50,299.97 L298.20,300.00 L298.90,300.04 L299.60,300.07" fill="none" stroke="#00ff00" stroke-width="2.6" stroke-linejoin="round" stroke-linecap="butt"/>
<path d="M147.00,236.40 L147.70,236.40 L148.40,237.42 L149.10,238.45 L149.80,239.50 L150.50,240.56 L151.20,241.62 L151.90,242.70 L152.60,243.79 L153.30,244.92 L154.00,246.16 L154.70,247.44 L155.40,248.67 L156.10,249.78 L156.80,250.69 L157.50,251.36 L158.20,251.89 L158.90,252.34 L159.60,252.80 L160.30,253.32 L161.00,253.93 L161.70,254.60 L162.40,255.31 L163.10,256.04 L163.80,256.78 L164.50,257.50 L165.20,258.22 L165.90,258.99 L166.60,259.79 L167.30,260.58 L168.00,261.33 L168.70,261.99 L169.40,262.55 L170.10,262.96 L170.80,263.28 L171.50,263.53 L172.20,263.77 L172.90,264.01 L173.60,264.30 L174.30,264.67 L175.00,265.14 L175.70,265.69 L176.40,266.30 L177.10,266.95 L177.80,267.62 L178.50,268.28 L179.20,268.92 L179.90,269.52 L180.60,270.08 L181.30,270.65 L182.00,271.21 L182.70,271.77 L183.40,272.32 L184.10,272.85 L184.80,273.37 L185.50,273.86 L186.20,274.33 L186.90,274.76 L187.60,275.16 L188.30,275.54 L189.00,275.90 L189.70,276.25 L190.40,276.58 L191.10,276.91 L191.80,277.24 L192.50,277.56 L193.20,277.90 L193.90,278.25 L194.60,278.60 L195.30,278.96 L196.00,279.31 L196.70,279.67 L197.40,280.02 L198.10,280.37 L198.80,280.72 L199.50,281.06 L200.20,281.40 L200.90,281.73 L201.60,282.06 L202.30,282.39 L203.00,282.71 L203.70,283.04 L204.40,283.36 L205.10,283.68 L205.80,284.00 L206.50,284.31 L207.20,284.62 L207.90,284.93 L208.60,285.24 L209.30,285.54 L210.00,285.84 L210.70,286.14 L211.40,286.44 L212.10,286.73 L212.80,287.03 L213.50,287.32 L214.20,287.60 L214.90,287.89 L215.60,288.17 L216.30,288.45 L217.00,288.73 L217.70,289.00 L218.40,289.27 L219.10,289.54 L219.80,289.80 L220.50,290.06 L221.20,290.31 L221.90,290.57 L222.60,290.81 L223.30,291.06 L224.00,291.30 L224.70,291.54 L225.40,291.78 L226.10,292.02 L226.80,292.25 L227.50,292.48 L228.20,292.71 L228.90,292.94 L229.60,293.17 L230.30,293.40 L231.00,293.64 L231.70,293.88 L232.40,294.13 L233.10,294.37 L233.80,294.62 L234.50,294.86 L235.20,295.09 L235.90,295.32 L236.60,295.53 L237.30,295.72 L238.00,295.89 L238.70,296.04 L239.40,296.17 L240.10,296.27 L240.80,296.36 L241.50,296.45 L242.20,296.52 L242.90,296.59 L243.60,296.65 L244.30,296.71 L245.00,296.77 L245.70,296.83 L246.40,296.88 L247.10,296.94 L247.80,297.01 L248.50,297.08 L249.20,297.15 L249.90,297.24 L250.60,297.33 L251.30,297.43 L252.00,297.54 L252.70,297.66 L253.40,297.77 L254.10,297.89 L254.80,298.01 L255.50,298.13 L256.20,298.24 L256.90,298.36 L257.60,298.46 L258.30,298.56 L259.00,298.64 L259.70,298.72 L260.40,298.79 L261.10,298.86 L261.80,298.93 L262.50,299.00 L263.20,299.06 L263.90,299.12 L264.60,299.18 L265.30,299.24 L266.00,299.29 L266.70,299.34 L267.40,299.39 L268.10,299.43 L268.80,299.47 L269.50,299.51 L270.20,299.54 L270.90,299.57 L271.60,299.60 L272.30,299.63 L273.00,299.66 L273.70,299.69 L274.40,299.72 L275.10,299.75 L275.80,299.77 L276.50,299.80 L277.20,299.82 L277.90,299.84 L278.60,299.87 L279.30,299.89 L280.00,299.91 L280.70,299.93 L281.40,299.95 L282.10,299.97 L282.80,299.99 L283.50,300.01 L284.20,300.03 L284.90,300.05 L285.60,300.07 L286.30,300.09 L287.00,300.11 L287.70,300.13 L288.40,300.15 L289.10,300.17 L289.80,300.19 L290.50,300.22 L291.20,300.24 L291.90,300.26 L292.60,300.28 L293.30,300.30 L294.00,300.32 L294.70,300.34 L295.40,300.36 L296.10,300.38 L296.80,300.40 L297.50,300.43 L298.20,300.45 L298.90,300.47 L299.60,300.49" fill="none" stroke="#00ffff" stroke-width="2.6" stroke-linejoin="round" stroke-linecap="butt"/>
<path d="M147.00,229.60 L147.70,229.60 L148.40,230.48 L149.10,231.34 L149.80,232.18 L150.50,233.00 L151.20,233.81 L151.90,234.59 L152.60,235.37 L153.30,236.17 L154.00,236.96 L154.70,237.73 L155.40,238.45 L156.10,239.10 L156.80,239.66 L157.50,240.11 L158.20,240.48 L158.90,240.78 L159.60,241.06 L160.30,241.32 L161.00,241.61 L161.70,241.95 L162.40,242.36 L163.10,242.89 L163.80,243.75 L164.50,244.93 L165.20,246.25 L165.90,247.52 L166.60,248.58 L167.30,249.55 L168.00,250.50 L168.70,251.40 L169.40,252.22 L170.10,252.95 L170.80,253.56 L171.50,254.02 L172.20,254.42 L172.90,254.87 L173.60,255.46 L174.30,256.20 L175.00,257.05 L175.70,257.96 L176.40,258.90 L177.10,259.82 L177.80,260.73 L178.50,261.77 L179.20,262.91 L179.90,264.07 L180.60,265.19 L181.30,266.20 L182.00,267.03 L182.70,267.62 L183.40,267.90 L184.10,267.98 L184.80,268.04 L185.50,268.08 L186.20,268.11 L186.90,268.15 L187.60,268.20 L188.30,268.27 L189.00,268.47 L189.70,268.96 L190.40,269.68 L191.10,270.52 L191.80,271.38 L192.50,272.16 L193.20,272.77 L193.90,273.13 L194.60,273.37 L195.30,273.57 L196.00,273.74 L196.70,273.90 L197.40,274.07 L198.10,274.28 L198.80,274.54 L199.50,274.90 L200.20,275.36 L200.90,275.89 L201.60,276.46 L202.30,277.04 L203.00,277.62 L203.70,278.17 L204.40,278.65 L205.10,279.05 L205.80,279.39 L206.50,279.69 L207.20,279.96 L207.90,280.21 L208.60,280.46 L209.30,280.71 L210.00,280.97 L210.70,281.25 L211.40,281.56 L212.10,281.91 L212.80,282.38 L213.50,282.96 L214.20,283.59 L214.90,284.22 L215.60,284.81 L216.30,285.30 L217.00,285.65 L217.70,285.80 L218.40,285.80 L219.10,285.80 L219.80,285.80 L220.50,285.80 L221.20,285.80 L221.90,285.80 L222.60,285.93 L223.30,286.23 L224.00,286.66 L224.70,287.17 L225.40,287.72 L226.10,288.26 L226.80,288.76 L227.50,289.16 L228.20,289.46 L228.90,289.72 L229.60,289.97 L230.30,290.20 L231.00,290.42 L231.70,290.63 L232.40,290.83 L233.10,291.02 L233.80,291.21 L234.50,291.39 L235.20,291.57 L235.90,291.75 L236.60,291.94 L237.30,292.12 L238.00,292.31 L238.70,292.50 L239.40,292.68 L240.10,292.86 L240.80,293.02 L241.50,293.18 L242.20,293.33 L242.90,293.46 L243.60,293.57 L244.30,293.67 L245.00,293.74 L245.70,293.80 L246.40,293.85 L247.10,293.89 L247.80,293.93 L248.50,293.97 L249.20,294.01 L249.90,294.06 L250.60,294.11 L251.30,294.18 L252.00,294.27 L252.70,294.40 L253.40,294.56 L254.10,294.74 L254.80,294.95 L255.50,295.16 L256.20,295.38 L256.90,295.59 L257.60,295.79 L258.30,295.97 L259.00,296.12 L259.70,296.23 L260.40,296.32 L261.10,296.41 L261.80,296.49 L262.50,296.57 L263.20,296.64 L263.90,296.71 L264.60,296.77 L265.30,296.83 L266.00,296.89 L266.70,296.95 L267.40,297.01 L268.10,297.07 L268.80,297.14 L269.50,297.21 L270.20,297.28 L270.90,297.36 L271.60,297.43 L272.30,297.51 L273.00,297.58 L273.70,297.66 L274.40,297.74 L275.10,297.81 L275.80,297.89 L276.50,297.97 L277.20,298.05 L277.90,298.13 L278.60,298.21 L279.30,298.28 L280.00,298.36 L280.70,298.44 L281.40,298.51 L282.10,298.59 L282.80,298.66 L283.50,298.73 L284.20,298.80 L284.90,298.87 L285.60,298.93 L286.30,299.00 L287.00,299.06 L287.70,299.12 L288.40,299.18 L289.10,299.23 L289.80,299.29 L290.50,299.34 L291.20,299.39 L291.90,299.43 L292.60,299.48 L293.30,299.53 L294.00,299.58 L294.70,299.63 L295.40,299.67 L296.10,299.72 L296.80,299.77 L297.50,299.81 L298.20,299.86 L298.90,299.90 L299.60,299.95" fill="none" stroke="#0000ff" stroke-width="2.6" stroke-linejoin="round" stroke-linecap="butt"/>
<path d="M147.00,225.40 L147.70,225.40 L148.40,226.42 L149.10,227.46 L149.80,228.51 L150.50,229.57 L151.20,230.66 L151.90,231.76 L152.60,232.90 L153.30,234.04 L154.00,235.19 L154.70,236.33 L155.40,237.46 L156.10,238.60 L156.80,239.75 L157.50,240.90 L158.20,242.02 L158.90,243.09 L159.60,244.10 L160.30,245.05 L161.00,245.97 L161.70,246.85 L162.40,247.66 L163.10,248.40 L163.80,249.08 L164.50,249.72 L165.20,250.33 L165.90,250.91 L166.60,251.46 L167.30,252.00 L168.00,252.53 L168.70,253.02 L169.40,253.47 L170.10,253.89 L170.80,254.30 L171.50,254.73 L172.20,255.21 L172.90,255.74 L173.60,256.39 L174.30,257.19 L175.00,258.10 L175.70,259.04 L176.40,259.95 L177.10,260.81 L177.80,261.68 L178.50,262.55 L179.20,263.41 L179.90,264.25 L180.60,265.05 L181.30,265.80 L182.00,266.49 L182.70,267.13 L183.40,267.75 L184.10,268.34 L184.80,268.90 L185.50,269.44 L186.20,269.96 L186.90,270.47 L187.60,270.96 L188.30,271.42 L189.00,271.86 L189.70,272.29 L190.40,272.71 L191.10,273.13 L191.80,273.55 L192.50,273.99 L193.20,274.43 L193.90,274.91 L194.60,275.41 L195.30,275.93 L196.00,276.47 L196.70,277.01 L197.40,277.54 L198.10,278.06 L198.80,278.55 L199.50,279.00 L200.20,279.41 L200.90,279.79 L201.60,280.15 L202.30,280.50 L203.00,280.83 L203.70,281.14 L204.40,281.45 L205.10,281.75 L205.80,282.05 L206.50,282.34 L207.20,282.63 L207.90,282.93 L208.60,283.23 L209.30,283.53 L210.00,283.85 L210.70,284.17 L211.40,284.50 L212.10,284.84 L212.80,285.18 L213.50,285.52 L214.20,285.86 L214.90,286.20 L215.60,286.53 L216.30,286.85 L217.00,287.17 L217.70,287.47 L218.40,287.77 L219.10,288.04 L219.80,288.30 L220.50,288.54 L221.20,288.78 L221.90,289.01 L222.60,289.22 L223.30,289.44 L224.00,289.64 L224.70,289.84 L225.40,290.04 L226.10,290.23 L226.80,290.42 L227.50,290.61 L228.20,290.80 L228.90,290.98 L229.60,291.17 L230.30,291.36 L231.00,291.55 L231.70,291.73 L232.40,291.91 L233.10,292.09 L233.80,292.26 L234.50,292.44 L235.20,292.61 L235.90,292.78 L236.60,292.96 L237.30,293.13 L238.00,293.30 L238.70,293.48 L239.40,293.65 L240.10,293.83 L240.80,294.01 L241.50,294.21 L242.20,294.40 L242.90,294.60 L243.60,294.80 L244.30,295.00 L245.00,295.19 L245.70,295.38 L246.40,295.56 L247.10,295.72 L247.80,295.88 L248.50,296.02 L249.20,296.14 L249.90,296.24 L250.60,296.33 L251.30,296.42 L252.00,296.49 L252.70,296.56 L253.40,296.63 L254.10,296.69 L254.80,296.75 L255.50,296.81 L256.20,296.87 L256.90,296.93 L257.60,297.00 L258.30,297.07 L259.00,297.14 L259.70,297.22 L260.40,297.32 L261.10,297.42 L261.80,297.54 L262.50,297.66 L263.20,297.78 L263.90,297.90 L264.60,298.03 L265.30,298.15 L266.00,298.26 L266.70,298.38 L267.40,298.48 L268.10,298.57 L268.80,298.65 L269.50,298.71 L270.20,298.76 L270.90,298.81 L271.60,298.86 L272.30,298.91 L273.00,298.96 L273.70,299.00 L274.40,299.04 L275.10,299.08 L275.80,299.11 L276.50,299.15 L277.20,299.18 L277.90,299.22 L278.60,299.25 L279.30,299.28 L280.00,299.31 L280.70,299.34 L281.40,299.37 L282.10,299.40 L282.80,299.43 L283.50,299.46 L284.20,299.49 L284.90,299.52 L285.60,299.55 L286.30,299.58 L287.00,299.61 L287.70,299.65 L288.40,299.68 L289.10,299.71 L289.80,299.75 L290.50,299.78 L291.20,299.81 L291.90,299.85 L292.60,299.88 L293.30,299.91 L294.00,299.95 L294.70,299.98 L295.40,300.01 L296.10,300.05 L296.80,300.08 L297.50,300.11 L298.20,300.15 L298.90,300.18 L299.60,300.21 L300.30,300.25 L301.00,300.28 L301.70,300.31 L302.40,300.34 L303.10,300.37 L303.80,300.40 L304.50,300.43 L305.20,300.46 L305.90,300.49 L306.60,300.52 L307.30,300.55 L308.00,300.58 L308.70,300.60 L309.40,300.63 L310.10,300.66 L310.80,300.68 L311.50,300.71 L312.20,300.73 L312.90,300.75 L313.60,300.78 L314.30,300.80 L315.00,300.82 L315.70,300.84 L316.40,300.86 L317.10,300.88 L317.80,300.90 L318.50,300.91 L319.20,300.93 L319.90,300.95 L320.60,300.96 L321.30,300.98 L322.00,301.00 L322.70,301.01 L323.40,301.03 L324.10,301.04 L324.80,301.06 L325.50,301.07 L326.20,301.09 L326.90,301.11 L327.60,301.12 L328.30,301.14 L329.00,301.15 L329.70,301.16 L330.40,301.18 L331.10,301.19 L331.80,301.20 L332.50,301.22 L333.20,301.23 L333.90,301.24 L334.60,301.25 L335.30,301.27 L336.00,301.28 L336.70,301.29 L337.40,301.30 L338.10,301.31 L338.80,301.32 L339.50,301.33 L340.20,301.34 L340.90,301.35 L341.60,301.35 L342.30,301.36 L343.00,301.37 L343.70,301.38 L344.40,301.38 L345.10,301.39 L345.80,301.39 L346.50,301.40" fill="none" stroke="#ff00ff" stroke-width="2.6" stroke-linejoin="round" stroke-linecap="butt"/>
</g>
<rect x="216.1" y="204.9" width="51.95" height="16.8" fill="#fbd9d9"/>
<line x1="456.24" y1="187.20" x2="456.24" y2="189.80" stroke="#1e1e1e" stroke-width="1.2"/>
<line x1="456.24" y1="319.90" x2="456.24" y2="317.30" stroke="#1e1e1e" stroke-width="1.2"/>
<line x1="495.58" y1="187.20" x2="495.58" y2="189.80" stroke="#1e1e1e" stroke-width="1.2"/>
<line x1="495.58" y1="319.90" x2="495.58" y2="317.30" stroke="#1e1e1e" stroke-width="1.2"/>
<line x1="534.92" y1="187.20" x2="534.92" y2="189.80" stroke="#1e1e1e" stroke-width="1.2"/>
<line x1="534.92" y1="319.90" x2="534.92" y2="317.30" stroke="#1e1e1e" stroke-width="1.2"/>
<line x1="574.26" y1="187.20" x2="574.26" y2="189.80" stroke="#1e1e1e" stroke-width="1.2"/>
<line x1="574.26" y1="319.90" x2="574.26" y2="317.30" stroke="#1e1e1e" stroke-width="1.2"/>
<line x1="613.60" y1="187.20" x2="613.60" y2="189.80" stroke="#1e1e1e" stroke-width="1.2"/>
<line x1="613.60" y1="319.90" x2="613.60" y2="317.30" stroke="#1e1e1e" stroke-width="1.2"/>
<line x1="652.94" y1="187.20" x2="652.94" y2="189.80" stroke="#1e1e1e" stroke-width="1.2"/>
<line x1="652.94" y1="319.90" x2="652.94" y2="317.30" stroke="#1e1e1e" stroke-width="1.2"/>
<line x1="417.20" y1="306.60" x2="419.80" y2="306.60" stroke="#1e1e1e" stroke-width="1.2"/>
<line x1="692.50" y1="306.60" x2="689.90" y2="306.60" stroke="#1e1e1e" stroke-width="1.2"/>
<line x1="417.20" y1="293.30" x2="419.80" y2="293.30" stroke="#1e1e1e" stroke-width="1.2"/>
<line x1="692.50" y1="293.30" x2="689.90" y2="293.30" stroke="#1e1e1e" stroke-width="1.2"/>
<line x1="417.20" y1="280.00" x2="419.80" y2="280.00" stroke="#1e1e1e" stroke-width="1.2"/>
<line x1="692.50" y1="280.00" x2="689.90" y2="280.00" stroke="#1e1e1e" stroke-width="1.2"/>
<line x1="417.20" y1="266.70" x2="419.80" y2="266.70" stroke="#1e1e1e" stroke-width="1.2"/>
<line x1="692.50" y1="266.70" x2="689.90" y2="266.70" stroke="#1e1e1e" stroke-width="1.2"/>
<line x1="417.20" y1="253.40" x2="419.80" y2="253.40" stroke="#1e1e1e" stroke-width="1.2"/>
<line x1="692.50" y1="253.40" x2="689.90" y2="253.40" stroke="#1e1e1e" stroke-width="1.2"/>
<line x1="417.20" y1="240.10" x2="419.80" y2="240.10" stroke="#1e1e1e" stroke-width="1.2"/>
<line x1="692.50" y1="240.10" x2="689.90" y2="240.10" stroke="#1e1e1e" stroke-width="1.2"/>
<line x1="417.20" y1="226.80" x2="419.80" y2="226.80" stroke="#1e1e1e" stroke-width="1.2"/>
<line x1="692.50" y1="226.80" x2="689.90" y2="226.80" stroke="#1e1e1e" stroke-width="1.2"/>
<line x1="417.20" y1="213.50" x2="419.80" y2="213.50" stroke="#1e1e1e" stroke-width="1.2"/>
<line x1="692.50" y1="213.50" x2="689.90" y2="213.50" stroke="#1e1e1e" stroke-width="1.2"/>
<line x1="417.20" y1="200.20" x2="419.80" y2="200.20" stroke="#1e1e1e" stroke-width="1.2"/>
<line x1="692.50" y1="200.20" x2="689.90" y2="200.20" stroke="#1e1e1e" stroke-width="1.2"/>
<rect x="417.20" y="187.20" width="275.30" height="132.70" fill="none" stroke="#1e1e1e" stroke-width="1.8"/>
<path d="M448.37,191.42 L450.34,202.02 L452.31,212.73 L454.27,223.56 L456.24,234.48 L458.21,246.03 L460.17,255.90 L462.14,262.33 L464.11,268.48 L466.07,274.68 L468.04,282.61 L470.01,287.76 L471.98,291.70 L473.94,297.33 L475.91,300.93 L477.88,303.67 L479.84,305.95 L481.81,307.89 L483.78,309.59 L485.75,311.16 L487.71,312.63 L489.68,313.95 L491.65,315.08 L493.61,316.01 L495.58,316.70 L497.55,317.32 L499.51,317.89 L501.48,318.40 L503.45,318.83 L505.41,319.17 L507.38,319.41 L509.35,319.53 L511.32,319.61 L513.28,319.68 L515.25,319.75 L517.22,319.80 L519.18,319.84 L521.15,319.87 L523.12,319.89 L525.09,319.90 L527.05,319.90 L529.02,319.90 L530.99,319.90 L532.95,319.90 L534.92,319.90 L536.89,319.90 L538.85,319.90 L540.82,319.90 L542.79,319.90 L544.75,319.90 L546.72,319.90 L548.69,319.90 L550.66,319.90 L552.62,319.90 L554.59,319.90 L556.56,319.90 L558.52,319.90 L560.49,319.90 L562.46,319.90 L564.42,319.90 L566.39,319.90 L568.36,319.90 L570.33,319.90 L572.29,319.90 L574.26,319.90 L576.23,319.90 L578.19,319.90 L580.16,319.90 L582.13,319.90 L584.10,319.90 L586.06,319.90 L588.03,319.90 L590.00,319.90 L591.96,319.90 L593.93,319.90 L595.90,319.90 L597.86,319.90 L599.83,319.90 L601.80,319.90 L603.76,319.90 L605.73,319.90 L607.70,319.90 L609.67,319.90 L611.63,319.90 L613.60,319.90 L615.57,319.90 L617.53,319.90 L619.50,319.90 L621.47,319.90 L623.43,319.90 L625.40,319.90 L627.37,319.90 L629.34,319.90 L631.30,319.90 L633.27,319.90 L635.24,319.90 L637.20,319.90 L639.17,319.90 L641.14,319.90 L643.11,319.90 L645.07,319.90 L647.04,319.90 L649.01,319.90 L650.97,319.90 L652.94,319.90 L654.91,319.90 L656.87,319.90 L658.84,319.90 L660.81,319.90 L662.77,319.90 L664.74,319.90 L666.71,319.90 L668.68,319.90" fill="none" stroke="#ff0000" stroke-width="2.0" stroke-linejoin="round" stroke-linecap="butt"/>
<path d="M448.37,190.62 L450.34,202.18 L452.31,213.34 L454.27,224.10 L456.24,235.01 L458.21,246.55 L460.17,256.47 L462.14,262.99 L464.11,269.16 L466.07,275.34 L468.04,283.27 L470.01,288.42 L471.98,292.37 L473.94,298.01 L475.91,301.56 L477.88,304.23 L479.84,306.45 L481.81,308.32 L483.78,309.98 L485.75,311.53 L487.71,312.98 L489.68,314.28 L491.65,315.40 L493.61,316.29 L495.58,316.95 L497.55,317.52 L499.51,318.04 L501.48,318.50 L503.45,318.89 L505.41,319.20 L507.38,319.41 L509.35,319.53 L511.32,319.61 L513.28,319.68 L515.25,319.74 L517.22,319.80 L519.18,319.84 L521.15,319.87 L523.12,319.89 L525.09,319.90 L527.05,319.90 L529.02,319.90 L530.99,319.90 L532.95,319.90 L534.92,319.90 L536.89,319.90 L538.85,319.90 L540.82,319.90 L542.79,319.90 L544.75,319.90 L546.72,319.90 L548.69,319.90 L550.66,319.90 L552.62,319.90 L554.59,319.90 L556.56,319.90 L558.52,319.90 L560.49,319.90 L562.46,319.90 L564.42,319.90 L566.39,319.90 L568.36,319.90 L570.33,319.90 L572.29,319.90 L574.26,319.90 L576.23,319.90 L578.19,319.90 L580.16,319.90 L582.13,319.90 L584.10,319.90 L586.06,319.90 L588.03,319.90 L590.00,319.90 L591.96,319.90 L593.93,319.90 L595.90,319.90 L597.86,319.90 L599.83,319.90 L601.80,319.90 L603.76,319.90 L605.73,319.90 L607.70,319.90 L609.67,319.90 L611.63,319.90 L613.60,319.90 L615.57,319.90 L617.53,319.90 L619.50,319.90 L621.47,319.90 L623.43,319.90 L625.40,319.90 L627.37,319.90 L629.34,319.90 L631.30,319.90 L633.27,319.90 L635.24,319.90 L637.20,319.90 L639.17,319.90 L641.14,319.90 L643.11,319.90 L645.07,319.90 L647.04,319.90 L649.01,319.90 L650.97,319.90 L652.94,319.90 L654.91,319.90 L656.87,319.90 L658.84,319.90 L660.81,319.90 L662.77,319.90 L664.74,319.90 L666.71,319.90 L668.68,319.90" fill="none" stroke="#000000" stroke-width="2.0" stroke-linejoin="round" stroke-linecap="butt"/>
<path d="M448.37,231.72 L450.34,240.63 L452.31,248.76 L454.27,256.64 L456.24,264.19 L458.21,271.51 L460.17,277.53 L462.14,282.32 L464.11,287.08 L466.07,292.35 L468.04,297.28 L470.01,301.06 L471.98,304.28 L473.94,307.10 L475.91,309.46 L477.88,311.28 L479.84,312.76 L481.81,314.06 L483.78,315.17 L485.75,316.07 L487.71,316.77 L489.68,317.34 L491.65,317.83 L493.61,318.25 L495.58,318.58 L497.55,318.84 L499.51,319.04 L501.48,319.22 L503.45,319.39 L505.41,319.53 L507.38,319.64 L509.35,319.72 L511.32,319.77 L513.28,319.79 L515.25,319.81 L517.22,319.83 L519.18,319.84 L521.15,319.85 L523.12,319.87 L525.09,319.88 L527.05,319.89 L529.02,319.89 L530.99,319.90 L532.95,319.90 L534.92,319.90 L536.89,319.90 L538.85,319.90 L540.82,319.90 L542.79,319.90 L544.75,319.90 L546.72,319.90 L548.69,319.90 L550.66,319.90 L552.62,319.90 L554.59,319.90 L556.56,319.90 L558.52,319.90 L560.49,319.90 L562.46,319.90 L564.42,319.90 L566.39,319.90 L568.36,319.90 L570.33,319.90 L572.29,319.90 L574.26,319.90 L576.23,319.90 L578.19,319.90 L580.16,319.90 L582.13,319.90 L584.10,319.90 L586.06,319.90 L588.03,319.90 L590.00,319.90 L591.96,319.90 L593.93,319.90 L595.90,319.90 L597.86,319.90 L599.83,319.90 L601.80,319.90 L603.76,319.90 L605.73,319.90 L607.70,319.90 L609.67,319.90 L611.63,319.90 L613.60,319.90 L615.57,319.90 L617.53,319.90 L619.50,319.90 L621.47,319.90 L623.43,319.90 L625.40,319.90 L627.37,319.90 L629.34,319.90 L631.30,319.90 L633.27,319.90 L635.24,319.90 L637.20,319.90 L639.17,319.90 L641.14,319.90 L643.11,319.90 L645.07,319.90 L647.04,319.90 L649.01,319.90 L650.97,319.90 L652.94,319.90 L654.91,319.90 L656.87,319.90 L658.84,319.90 L660.81,319.90 L662.77,319.90 L664.74,319.90 L666.71,319.90 L668.68,319.90" fill="none" stroke="#00ff00" stroke-width="2.0" stroke-linejoin="round" stroke-linecap="butt"/>
<path d="M448.37,231.45 L450.34,241.34 L452.31,251.42 L454.27,261.72 L456.24,271.41 L458.21,279.56 L460.17,283.75 L462.14,289.37 L464.11,295.37 L466.07,300.70 L468.04,304.86 L470.01,308.43 L471.98,311.12 L473.94,313.16 L475.91,314.88 L477.88,316.18 L479.84,316.99 L481.81,317.61 L483.78,318.15 L485.75,318.59 L487.71,318.93 L489.68,319.17 L491.65,319.32 L493.61,319.46 L495.58,319.58 L497.55,319.69 L499.51,319.78 L501.48,319.84 L503.45,319.89 L505.41,319.90 L507.38,319.90 L509.35,319.90 L511.32,319.90 L513.28,319.90 L515.25,319.90 L517.22,319.90 L519.18,319.90 L521.15,319.90 L523.12,319.90 L525.09,319.90 L527.05,319.90 L529.02,319.90 L530.99,319.90 L532.95,319.90 L534.92,319.90 L536.89,319.90 L538.85,319.90 L540.82,319.90 L542.79,319.90 L544.75,319.90 L546.72,319.90 L548.69,319.90 L550.66,319.90 L552.62,319.90 L554.59,319.90 L556.56,319.90 L558.52,319.90 L560.49,319.90 L562.46,319.90 L564.42,319.90 L566.39,319.90 L568.36,319.90 L570.33,319.90 L572.29,319.90 L574.26,319.90 L576.23,319.90 L578.19,319.90 L580.16,319.90 L582.13,319.90 L584.10,319.90 L586.06,319.90 L588.03,319.90 L590.00,319.90 L591.96,319.90 L593.93,319.90 L595.90,319.90 L597.86,319.90 L599.83,319.90 L601.80,319.90 L603.76,319.90 L605.73,319.90 L607.70,319.90 L609.67,319.90 L611.63,319.90 L613.60,319.90 L615.57,319.90 L617.53,319.90 L619.50,319.90 L621.47,319.90 L623.43,319.90 L625.40,319.90 L627.37,319.90 L629.34,319.90 L631.30,319.90 L633.27,319.90 L635.24,319.90 L637.20,319.90 L639.17,319.90 L641.14,319.90 L643.11,319.90 L645.07,319.90 L647.04,319.90 L649.01,319.90 L650.97,319.90 L652.94,319.90 L654.91,319.90 L656.87,319.90 L658.84,319.90 L660.81,319.90 L662.77,319.90 L664.74,319.90 L666.71,319.90 L668.68,319.90" fill="none" stroke="#0000ff" stroke-width="2.0" stroke-linejoin="round" stroke-linecap="butt"/>
<path d="M448.37,200.86 L450.34,211.69 L452.31,221.48 L454.27,230.24 L456.24,238.30 L458.21,245.77 L460.17,252.62 L462.14,258.96 L464.11,265.08 L466.07,271.30 L468.04,277.98 L470.01,284.08 L471.98,288.74 L473.94,292.83 L475.91,296.42 L477.88,299.52 L479.84,302.15 L481.81,304.50 L483.78,306.62 L485.75,308.49 L487.71,310.13 L489.68,311.52 L491.65,312.82 L493.61,314.05 L495.58,315.17 L497.55,316.13 L499.51,316.91 L501.48,317.46 L503.45,317.86 L505.41,318.22 L507.38,318.54 L509.35,318.83 L511.32,319.08 L513.28,319.29 L515.25,319.45 L517.22,319.57 L519.18,319.65 L521.15,319.70 L523.12,319.75 L525.09,319.79 L527.05,319.83 L529.02,319.86 L530.99,319.88 L532.95,319.90 L534.92,319.90 L536.89,319.90 L538.85,319.90 L540.82,319.90 L542.79,319.90 L544.75,319.90 L546.72,319.90 L548.69,319.90 L550.66,319.90 L552.62,319.90 L554.59,319.90 L556.56,319.90 L558.52,319.90 L560.49,319.90 L562.46,319.90 L564.42,319.90 L566.39,319.90 L568.36,319.90 L570.33,319.90 L572.29,319.90 L574.26,319.90 L576.23,319.90 L578.19,319.90 L580.16,319.90 L582.13,319.90 L584.10,319.90 L586.06,319.90 L588.03,319.90 L590.00,319.90 L591.96,319.90 L593.93,319.90 L595.90,319.90 L597.86,319.90 L599.83,319.90 L601.80,319.90 L603.76,319.90 L605.73,319.90 L607.70,319.90 L609.67,319.90 L611.63,319.90 L613.60,319.90 L615.57,319.90 L617.53,319.90 L619.50,319.90 L621.47,319.90 L623.43,319.90 L625.40,319.90 L627.37,319.90 L629.34,319.90 L631.30,319.90 L633.27,319.90 L635.24,319.90 L637.20,319.90 L639.17,319.90 L641.14,319.90 L643.11,319.90 L645.07,319.90 L647.04,319.90 L649.01,319.90 L650.97,319.90 L652.94,319.90 L654.91,319.90 L656.87,319.90 L658.84,319.90 L660.81,319.90 L662.77,319.90 L664.74,319.90 L666.71,319.90 L668.68,319.90" fill="none" stroke="#00ffff" stroke-width="2.0" stroke-linejoin="round" stroke-linecap="butt"/>
<path d="M448.37,211.37 L450.34,218.44 L452.31,225.82 L454.27,234.01 L456.24,242.47 L458.21,248.50 L460.17,252.58 L462.14,257.11 L464.11,262.49 L466.07,267.63 L468.04,272.10 L470.01,276.21 L471.98,280.00 L473.94,283.56 L475.91,286.75 L477.88,289.61 L479.84,292.29 L481.81,294.79 L483.78,297.12 L485.75,299.27 L487.71,301.30 L489.68,303.26 L491.65,305.11 L493.61,306.82 L495.58,308.35 L497.55,309.66 L499.51,310.82 L501.48,311.91 L503.45,312.93 L505.41,313.86 L507.38,314.69 L509.35,315.39 L511.32,315.95 L513.28,316.40 L515.25,316.83 L517.22,317.24 L519.18,317.61 L521.15,317.96 L523.12,318.27 L525.09,318.54 L527.05,318.78 L529.02,318.98 L530.99,319.13 L532.95,319.23 L534.92,319.31 L536.89,319.38 L538.85,319.45 L540.82,319.51 L542.79,319.56 L544.75,319.60 L546.72,319.65 L548.69,319.68 L550.66,319.71 L552.62,319.74 L554.59,319.76 L556.56,319.78 L558.52,319.80 L560.49,319.82 L562.46,319.84 L564.42,319.86 L566.39,319.87 L568.36,319.88 L570.33,319.89 L572.29,319.90 L574.26,319.90 L576.23,319.90 L578.19,319.90 L580.16,319.90 L582.13,319.90 L584.10,319.90 L586.06,319.90 L588.03,319.90 L590.00,319.90 L591.96,319.90 L593.93,319.90 L595.90,319.90 L597.86,319.90 L599.83,319.90 L601.80,319.90 L603.76,319.90 L605.73,319.90 L607.70,319.90 L609.67,319.90 L611.63,319.90 L613.60,319.90 L615.57,319.90 L617.53,319.90 L619.50,319.90 L621.47,319.90 L623.43,319.90 L625.40,319.90 L627.37,319.90 L629.34,319.90 L631.30,319.90 L633.27,319.90 L635.24,319.90 L637.20,319.90 L639.17,319.90 L641.14,319.90 L643.11,319.90 L645.07,319.90 L647.04,319.90 L649.01,319.90 L650.97,319.90 L652.94,319.90 L654.91,319.90 L656.87,319.90 L658.84,319.90 L660.81,319.90 L662.77,319.90 L664.74,319.90 L666.71,319.90 L668.68,319.90" fill="none" stroke="#ff00ff" stroke-width="2.0" stroke-linejoin="round" stroke-linecap="butt"/>
<line x1="105.72" y1="566.80" x2="105.72" y2="569.40" stroke="#1e1e1e" stroke-width="1.2"/>
<line x1="105.72" y1="699.40" x2="105.72" y2="696.80" stroke="#1e1e1e" stroke-width="1.2"/>
<line x1="145.04" y1="566.80" x2="145.04" y2="569.40" stroke="#1e1e1e" stroke-width="1.2"/>
<line x1="145.04" y1="699.40" x2="145.04" y2="696.80" stroke="#1e1e1e" stroke-width="1.2"/>
<line x1="184.36" y1="566.80" x2="184.36" y2="569.40" stroke="#1e1e1e" stroke-width="1.2"/>
<line x1="184.36" y1="699.40" x2="184.36" y2="696.80" stroke="#1e1e1e" stroke-width="1.2"/>
<line x1="223.68" y1="566.80" x2="223.68" y2="569.40" stroke="#1e1e1e" stroke-width="1.2"/>
<line x1="223.68" y1="699.40" x2="223.68" y2="696.80" stroke="#1e1e1e" stroke-width="1.2"/>
<line x1="263.00" y1="566.80" x2="263.00" y2="569.40" stroke="#1e1e1e" stroke-width="1.2"/>
<line x1="263.00" y1="699.40" x2="263.00" y2="696.80" stroke="#1e1e1e" stroke-width="1.2"/>
<line x1="302.32" y1="566.80" x2="302.32" y2="569.40" stroke="#1e1e1e" stroke-width="1.2"/>
<line x1="302.32" y1="699.40" x2="302.32" y2="696.80" stroke="#1e1e1e" stroke-width="1.2"/>
<line x1="67.10" y1="677.30" x2="69.70" y2="677.30" stroke="#1e1e1e" stroke-width="1.2"/>
<line x1="341.60" y1="677.30" x2="339.00" y2="677.30" stroke="#1e1e1e" stroke-width="1.2"/>
<line x1="67.10" y1="655.20" x2="69.70" y2="655.20" stroke="#1e1e1e" stroke-width="1.2"/>
<line x1="341.60" y1="655.20" x2="339.00" y2="655.20" stroke="#1e1e1e" stroke-width="1.2"/>
<line x1="67.10" y1="633.10" x2="69.70" y2="633.10" stroke="#1e1e1e" stroke-width="1.2"/>
<line x1="341.60" y1="633.10" x2="339.00" y2="633.10" stroke="#1e1e1e" stroke-width="1.2"/>
<line x1="67.10" y1="611.00" x2="69.70" y2="611.00" stroke="#1e1e1e" stroke-width="1.2"/>
<line x1="341.60" y1="611.00" x2="339.00" y2="611.00" stroke="#1e1e1e" stroke-width="1.2"/>
<line x1="67.10" y1="588.90" x2="69.70" y2="588.90" stroke="#1e1e1e" stroke-width="1.2"/>
<line x1="341.60" y1="588.90" x2="339.00" y2="588.90" stroke="#1e1e1e" stroke-width="1.2"/>
<rect x="67.10" y="566.80" width="274.50" height="132.60" fill="none" stroke="#1e1e1e" stroke-width="1.8"/>
<path d="M97.86,577.75 L99.82,579.15 L101.79,580.40 L103.75,581.73 L105.72,583.47 L107.69,584.99 L109.65,587.15 L111.62,589.56 L113.58,591.07 L115.55,593.00 L117.52,595.13 L119.48,596.81 L121.45,598.39 L123.41,599.70 L125.38,601.56 L127.35,603.37 L129.31,604.35 L131.28,606.22 L133.24,607.39 L135.21,609.17 L137.18,610.57 L139.14,612.59 L141.11,613.78 L143.07,615.72 L145.04,617.14 L147.01,618.45 L148.97,619.08 L150.94,620.92 L152.90,622.22 L154.87,623.36 L156.84,623.92 L158.80,625.26 L160.77,626.12 L162.73,627.20 L164.70,628.82 L166.67,629.36 L168.63,630.78 L170.60,632.33 L172.56,633.18 L174.53,634.59 L176.50,635.83 L178.46,636.85 L180.43,637.39 L182.39,638.63 L184.36,639.82 L186.33,639.73 L188.29,641.21 L190.26,641.74 L192.22,642.30 L194.19,643.89 L196.16,644.32 L198.12,644.53 L200.09,645.72 L202.05,646.66 L204.02,647.22 L205.99,648.25 L207.95,648.79 L209.92,649.76 L211.88,650.71 L213.85,650.78 L215.82,651.74 L217.78,652.23 L219.75,653.11 L221.71,653.44 L223.68,654.38 L225.65,655.30 L227.61,656.43 L229.58,657.24 L231.54,657.12 L233.51,657.82 L235.48,658.74 L237.44,658.46 L239.41,659.49 L241.37,660.26 L243.34,661.38 L245.31,661.91 L247.27,662.24 L249.24,662.77 L251.20,663.30 L253.17,664.30 L255.14,664.17 L257.10,664.67 L259.07,665.31 L261.03,665.61 L263.00,666.02 L264.97,666.16 L266.93,666.90 L268.90,667.17 L270.86,668.04 L272.83,668.27 L274.80,668.46 L276.76,669.05 L278.73,669.14 L280.69,669.95 L282.66,670.03 L284.63,670.60 L286.59,670.43 L288.56,671.32 L290.52,671.10 L292.49,671.39 L294.46,672.30 L296.42,672.52 L298.39,673.24 L300.35,674.26 L302.32,673.72 L304.29,674.14 L306.25,674.74 L308.22,675.17 L310.18,675.31 L312.15,675.63 L314.12,676.22 L316.08,676.47 L318.05,676.30" fill="none" stroke="#000000" stroke-width="2.0" stroke-linejoin="round" stroke-linecap="butt"/>
<path d="M97.86,575.63 L99.82,576.55 L101.79,577.12 L103.75,578.42 L105.72,579.00 L107.69,580.48 L109.65,581.21 L111.62,582.16 L113.58,582.96 L115.55,584.10 L117.52,584.53 L119.48,585.77 L121.45,587.16 L123.41,587.30 L125.38,589.06 L127.35,589.15 L129.31,590.79 L131.28,591.25 L133.24,592.76 L135.21,593.71 L137.18,594.46 L139.14,596.62 L141.11,598.02 L143.07,598.89 L145.04,600.09 L147.01,601.37 L148.97,602.36 L150.94,604.20 L152.90,604.90 L154.87,606.20 L156.84,607.09 L158.80,608.21 L160.77,609.08 L162.73,610.88 L164.70,611.51 L166.67,612.91 L168.63,613.70 L170.60,614.56 L172.56,615.74 L174.53,616.74 L176.50,617.99 L178.46,618.96 L180.43,620.08 L182.39,620.87 L184.36,622.17 L186.33,624.07 L188.29,624.57 L190.26,625.67 L192.22,627.31 L194.19,628.85 L196.16,629.19 L198.12,630.73 L200.09,631.71 L202.05,632.43 L204.02,634.16 L205.99,634.89 L207.95,635.87 L209.92,636.58 L211.88,637.94 L213.85,638.65 L215.82,639.78 L217.78,640.48 L219.75,641.40 L221.71,643.07 L223.68,643.35 L225.65,644.35 L227.61,645.00 L229.58,645.67 L231.54,646.54 L233.51,647.93 L235.48,648.74 L237.44,649.79 L239.41,650.65 L241.37,651.63 L243.34,652.01 L245.31,652.45 L247.27,652.75 L249.24,653.23 L251.20,654.74 L253.17,655.59 L255.14,656.04 L257.10,656.94 L259.07,657.63 L261.03,658.24 L263.00,658.84 L264.97,659.00 L266.93,660.15 L268.90,659.86 L270.86,661.03 L272.83,661.46 L274.80,662.12 L276.76,662.99 L278.73,663.47 L280.69,663.30 L282.66,663.78 L284.63,665.17 L286.59,665.28 L288.56,666.23 L290.52,667.14 L292.49,667.03 L294.46,667.51 L296.42,668.86 L298.39,669.42 L300.35,669.94 L302.32,670.57 L304.29,670.78 L306.25,671.06 L308.22,671.92 L310.18,672.11 L312.15,672.31 L314.12,673.32 L316.08,673.49 L318.05,673.93" fill="none" stroke="#ff0000" stroke-width="2.0" stroke-linejoin="round" stroke-linecap="butt"/>
<path d="M97.86,614.80 L99.82,617.09 L101.79,618.79 L103.75,620.08 L105.72,621.45 L107.69,622.07 L109.65,623.26 L111.62,624.12 L113.58,625.54 L115.55,625.39 L117.52,626.94 L119.48,627.52 L121.45,628.43 L123.41,628.90 L125.38,630.10 L127.35,631.37 L129.31,632.02 L131.28,632.96 L133.24,633.74 L135.21,635.06 L137.18,635.56 L139.14,635.73 L141.11,636.98 L143.07,637.39 L145.04,637.76 L147.01,639.32 L148.97,640.59 L150.94,640.90 L152.90,641.21 L154.87,641.94 L156.84,643.20 L158.80,643.53 L160.77,644.11 L162.73,644.68 L164.70,645.31 L166.67,646.14 L168.63,646.66 L170.60,647.16 L172.56,647.37 L174.53,648.43 L176.50,648.65 L178.46,649.77 L180.43,649.65 L182.39,650.58 L184.36,651.21 L186.33,651.41 L188.29,652.94 L190.26,653.49 L192.22,653.53 L194.19,654.51 L196.16,654.98 L198.12,654.65 L200.09,656.04 L202.05,656.44 L204.02,656.95 L205.99,657.04 L207.95,657.70 L209.92,658.13 L211.88,658.94 L213.85,659.08 L215.82,659.37 L217.78,660.24 L219.75,660.03 L221.71,660.52 L223.68,660.55 L225.65,662.03 L227.61,662.33 L229.58,662.80 L231.54,663.22 L233.51,663.55 L235.48,664.08 L237.44,664.43 L239.41,664.94 L241.37,665.54 L243.34,666.52 L245.31,666.78 L247.27,667.15 L249.24,667.53 L251.20,668.01 L253.17,669.14 L255.14,669.20 L257.10,669.39 L259.07,669.53 L261.03,669.53 L263.00,670.08 L264.97,670.63 L266.93,670.54 L268.90,670.89 L270.86,671.20 L272.83,671.62 L274.80,671.44 L276.76,672.19 L278.73,672.36 L280.69,673.25 L282.66,673.14 L284.63,673.94 L286.59,674.63 L288.56,674.49 L290.52,674.81 L292.49,675.45 L294.46,675.79 L296.42,675.91 L298.39,676.77 L300.35,677.63 L302.32,677.30 L304.29,677.60 L306.25,677.63 L308.22,678.31 L310.18,678.09 L312.15,678.36 L314.12,679.28 L316.08,678.79 L318.05,679.53" fill="none" stroke="#00ff00" stroke-width="2.0" stroke-linejoin="round" stroke-linecap="butt"/>
<path d="M97.86,583.66 L99.82,584.14 L101.79,585.42 L103.75,587.28 L105.72,587.39 L107.69,588.39 L109.65,589.27 L111.62,591.26 L113.58,593.28 L115.55,594.28 L117.52,594.51 L119.48,595.69 L121.45,596.96 L123.41,598.44 L125.38,599.27 L127.35,600.57 L129.31,601.73 L131.28,602.60 L133.24,603.93 L135.21,605.25 L137.18,606.25 L139.14,607.62 L141.11,609.30 L143.07,609.62 L145.04,610.26 L147.01,610.27 L148.97,612.16 L150.94,611.81 L152.90,612.85 L154.87,614.71 L156.84,615.34 L158.80,615.61 L160.77,615.53 L162.73,616.91 L164.70,617.51 L166.67,618.98 L168.63,620.66 L170.60,620.58 L172.56,621.08 L174.53,621.92 L176.50,623.52 L178.46,624.50 L180.43,625.02 L182.39,626.62 L184.36,626.88 L186.33,628.87 L188.29,629.67 L190.26,630.49 L192.22,630.49 L194.19,631.76 L196.16,632.19 L198.12,632.82 L200.09,633.59 L202.05,633.85 L204.02,634.51 L205.99,636.36 L207.95,636.58 L209.92,637.49 L211.88,638.59 L213.85,637.92 L215.82,639.08 L217.78,640.24 L219.75,641.03 L221.71,641.31 L223.68,642.68 L225.65,642.91 L227.61,642.83 L229.58,643.60 L231.54,645.09 L233.51,645.55 L235.48,644.99 L237.44,647.26 L239.41,647.54 L241.37,648.60 L243.34,648.47 L245.31,649.26 L247.27,649.59 L249.24,652.15 L251.20,651.48 L253.17,653.00 L255.14,652.45 L257.10,653.34 L259.07,652.81 L261.03,653.81 L263.00,654.87 L264.97,654.19 L266.93,655.86 L268.90,656.06 L270.86,655.96 L272.83,656.84 L274.80,657.45 L276.76,658.21 L278.73,658.48 L280.69,658.81 L282.66,659.53 L284.63,659.62 L286.59,659.94 L288.56,661.03 L290.52,661.99 L292.49,661.30 L294.46,662.64 L296.42,663.00 L298.39,663.58 L300.35,665.23 L302.32,665.19 L304.29,666.75 L306.25,666.13 L308.22,667.22 L310.18,667.39 L312.15,667.56 L314.12,668.64 L316.08,668.62 L318.05,669.31" fill="none" stroke="#00ffff" stroke-width="2.0" stroke-linejoin="round" stroke-linecap="butt"/>
<path d="M97.86,607.31 L99.82,609.81 L101.79,612.66 L103.75,615.06 L105.72,617.67 L107.69,620.10 L109.65,623.47 L111.62,625.70 L113.58,628.54 L115.55,630.16 L117.52,631.82 L119.48,633.89 L121.45,635.62 L123.41,636.22 L125.38,637.50 L127.35,638.73 L129.31,639.81 L131.28,641.38 L133.24,642.26 L135.21,643.45 L137.18,644.95 L139.14,645.82 L141.11,647.34 L143.07,648.20 L145.04,649.28 L147.01,650.16 L148.97,652.03 L150.94,652.39 L152.90,653.39 L154.87,654.15 L156.84,654.99 L158.80,655.72 L160.77,656.93 L162.73,656.91 L164.70,657.49 L166.67,658.33 L168.63,658.95 L170.60,660.16 L172.56,660.87 L174.53,661.12 L176.50,661.69 L178.46,662.63 L180.43,663.74 L182.39,663.36 L184.36,664.86 L186.33,665.12 L188.29,666.30 L190.26,666.41 L192.22,667.25 L194.19,667.58 L196.16,668.34 L198.12,669.55 L200.09,670.01 L202.05,670.31 L204.02,670.79 L205.99,671.12 L207.95,672.07 L209.92,672.74 L211.88,673.28 L213.85,673.83 L215.82,674.11 L217.78,674.90 L219.75,675.42 L221.71,676.25 L223.68,676.88 L225.65,676.84 L227.61,677.14 L229.58,677.76 L231.54,678.05 L233.51,678.45 L235.48,679.04 L237.44,679.21 L239.41,680.04 L241.37,680.27 L243.34,680.77 L245.31,681.07 L247.27,681.34 L249.24,681.68 L251.20,682.24 L253.17,682.54 L255.14,683.10 L257.10,683.39 L259.07,683.39 L261.03,684.08 L263.00,684.04 L264.97,684.52 L266.93,684.88 L268.90,684.70 L270.86,685.50 L272.83,685.77 L274.80,685.95 L276.76,686.16 L278.73,686.46 L280.69,686.62 L282.66,687.12 L284.63,687.38 L286.59,687.87 L288.56,687.85 L290.52,688.51 L292.49,688.75 L294.46,688.92 L296.42,689.04 L298.39,689.47 L300.35,689.09 L302.32,689.80 L304.29,689.93 L306.25,690.13 L308.22,690.34 L310.18,690.27 L312.15,690.56 L314.12,690.98 L316.08,691.12 L318.05,691.26" fill="none" stroke="#0000ff" stroke-width="2.0" stroke-linejoin="round" stroke-linecap="butt"/>
<path d="M97.86,610.98 L99.82,613.25 L101.79,614.95 L103.75,616.15 L105.72,616.89 L107.69,617.19 L109.65,618.73 L111.62,619.27 L113.58,619.58 L115.55,621.61 L117.52,622.22 L119.48,623.34 L121.45,624.40 L123.41,625.71 L125.38,625.88 L127.35,626.72 L129.31,627.83 L131.28,628.50 L133.24,628.70 L135.21,629.36 L137.18,629.72 L139.14,630.51 L141.11,631.44 L143.07,632.01 L145.04,632.47 L147.01,633.26 L148.97,633.22 L150.94,633.90 L152.90,634.62 L154.87,635.07 L156.84,635.74 L158.80,636.08 L160.77,636.42 L162.73,637.18 L164.70,637.33 L166.67,637.71 L168.63,638.95 L170.60,639.35 L172.56,640.07 L174.53,640.07 L176.50,641.08 L178.46,641.61 L180.43,642.12 L182.39,642.27 L184.36,643.40 L186.33,644.28 L188.29,644.60 L190.26,644.76 L192.22,645.39 L194.19,646.08 L196.16,645.51 L198.12,646.81 L200.09,647.58 L202.05,648.28 L204.02,649.43 L205.99,650.17 L207.95,650.74 L209.92,651.28 L211.88,651.80 L213.85,651.70 L215.82,652.11 L217.78,652.64 L219.75,653.22 L221.71,652.90 L223.68,653.32 L225.65,653.84 L227.61,654.66 L229.58,654.76 L231.54,655.74 L233.51,655.55 L235.48,656.32 L237.44,656.84 L239.41,657.64 L241.37,658.21 L243.34,657.93 L245.31,658.60 L247.27,659.46 L249.24,659.65 L251.20,659.88 L253.17,661.13 L255.14,661.44 L257.10,661.92 L259.07,662.12 L261.03,663.05 L263.00,663.12 L264.97,663.92 L266.93,663.66 L268.90,663.99 L270.86,664.60 L272.83,664.62 L274.80,665.34 L276.76,665.54 L278.73,665.53 L280.69,666.19 L282.66,666.44 L284.63,667.20 L286.59,667.13 L288.56,667.59 L290.52,668.50 L292.49,669.24 L294.46,669.60 L296.42,669.49 L298.39,670.04 L300.35,670.93 L302.32,670.92 L304.29,671.13 L306.25,671.92 L308.22,672.47 L310.18,672.53 L312.15,672.73 L314.12,673.23 L316.08,674.29 L318.05,674.28" fill="none" stroke="#ff00ff" stroke-width="2.0" stroke-linejoin="round" stroke-linecap="butt"/>
<line x1="457.00" y1="566.80" x2="457.00" y2="569.40" stroke="#1e1e1e" stroke-width="1.2"/>
<line x1="457.00" y1="699.40" x2="457.00" y2="696.80" stroke="#1e1e1e" stroke-width="1.2"/>
<line x1="496.30" y1="566.80" x2="496.30" y2="569.40" stroke="#1e1e1e" stroke-width="1.2"/>
<line x1="496.30" y1="699.40" x2="496.30" y2="696.80" stroke="#1e1e1e" stroke-width="1.2"/>
<line x1="535.60" y1="566.80" x2="535.60" y2="569.40" stroke="#1e1e1e" stroke-width="1.2"/>
<line x1="535.60" y1="699.40" x2="535.60" y2="696.80" stroke="#1e1e1e" stroke-width="1.2"/>
<line x1="574.90" y1="566.80" x2="574.90" y2="569.40" stroke="#1e1e1e" stroke-width="1.2"/>
<line x1="574.90" y1="699.40" x2="574.90" y2="696.80" stroke="#1e1e1e" stroke-width="1.2"/>
<line x1="614.20" y1="566.80" x2="614.20" y2="569.40" stroke="#1e1e1e" stroke-width="1.2"/>
<line x1="614.20" y1="699.40" x2="614.20" y2="696.80" stroke="#1e1e1e" stroke-width="1.2"/>
<line x1="653.50" y1="566.80" x2="653.50" y2="569.40" stroke="#1e1e1e" stroke-width="1.2"/>
<line x1="653.50" y1="699.40" x2="653.50" y2="696.80" stroke="#1e1e1e" stroke-width="1.2"/>
<line x1="418.20" y1="686.14" x2="420.80" y2="686.14" stroke="#1e1e1e" stroke-width="1.2"/>
<line x1="692.80" y1="686.14" x2="690.20" y2="686.14" stroke="#1e1e1e" stroke-width="1.2"/>
<line x1="418.20" y1="672.88" x2="420.80" y2="672.88" stroke="#1e1e1e" stroke-width="1.2"/>
<line x1="692.80" y1="672.88" x2="690.20" y2="672.88" stroke="#1e1e1e" stroke-width="1.2"/>
<line x1="418.20" y1="659.62" x2="420.80" y2="659.62" stroke="#1e1e1e" stroke-width="1.2"/>
<line x1="692.80" y1="659.62" x2="690.20" y2="659.62" stroke="#1e1e1e" stroke-width="1.2"/>
<line x1="418.20" y1="646.36" x2="420.80" y2="646.36" stroke="#1e1e1e" stroke-width="1.2"/>
<line x1="692.80" y1="646.36" x2="690.20" y2="646.36" stroke="#1e1e1e" stroke-width="1.2"/>
<line x1="418.20" y1="633.10" x2="420.80" y2="633.10" stroke="#1e1e1e" stroke-width="1.2"/>
<line x1="692.80" y1="633.10" x2="690.20" y2="633.10" stroke="#1e1e1e" stroke-width="1.2"/>
<line x1="418.20" y1="619.84" x2="420.80" y2="619.84" stroke="#1e1e1e" stroke-width="1.2"/>
<line x1="692.80" y1="619.84" x2="690.20" y2="619.84" stroke="#1e1e1e" stroke-width="1.2"/>
<line x1="418.20" y1="606.58" x2="420.80" y2="606.58" stroke="#1e1e1e" stroke-width="1.2"/>
<line x1="692.80" y1="606.58" x2="690.20" y2="606.58" stroke="#1e1e1e" stroke-width="1.2"/>
<line x1="418.20" y1="593.32" x2="420.80" y2="593.32" stroke="#1e1e1e" stroke-width="1.2"/>
<line x1="692.80" y1="593.32" x2="690.20" y2="593.32" stroke="#1e1e1e" stroke-width="1.2"/>
<line x1="418.20" y1="580.06" x2="420.80" y2="580.06" stroke="#1e1e1e" stroke-width="1.2"/>
<line x1="692.80" y1="580.06" x2="690.20" y2="580.06" stroke="#1e1e1e" stroke-width="1.2"/>
<rect x="418.20" y="566.80" width="274.60" height="132.60" fill="none" stroke="#1e1e1e" stroke-width="1.8"/>
<path d="M449.14,578.70 L451.11,580.71 L453.07,582.64 L455.03,583.96 L457.00,585.77 L458.96,586.63 L460.93,587.99 L462.89,588.86 L464.86,590.75 L466.82,591.62 L468.79,592.84 L470.75,594.53 L472.72,596.11 L474.69,597.84 L476.65,598.25 L478.62,599.56 L480.58,600.85 L482.54,602.94 L484.51,603.53 L486.48,604.41 L488.44,606.14 L490.40,608.14 L492.37,608.90 L494.33,610.34 L496.30,612.21 L498.26,613.19 L500.23,614.45 L502.19,615.19 L504.16,617.18 L506.12,618.20 L508.09,618.88 L510.06,619.97 L512.02,620.05 L513.99,621.99 L515.95,622.68 L517.91,623.87 L519.88,624.91 L521.85,625.50 L523.81,625.95 L525.77,627.60 L527.74,628.12 L529.71,629.15 L531.67,629.90 L533.63,630.81 L535.60,630.94 L537.57,632.98 L539.53,633.44 L541.50,634.52 L543.46,635.59 L545.42,635.68 L547.39,635.82 L549.36,636.93 L551.32,637.62 L553.28,638.68 L555.25,639.72 L557.22,639.86 L559.18,641.58 L561.14,641.84 L563.11,643.38 L565.08,644.13 L567.04,644.99 L569.00,646.03 L570.97,646.80 L572.93,647.64 L574.90,648.02 L576.87,649.23 L578.83,650.46 L580.79,651.04 L582.76,651.37 L584.73,651.79 L586.69,652.03 L588.65,653.56 L590.62,653.86 L592.59,654.68 L594.55,655.42 L596.51,656.36 L598.48,657.01 L600.44,657.95 L602.41,658.39 L604.38,659.36 L606.34,660.96 L608.31,660.78 L610.27,661.33 L612.24,662.20 L614.20,662.84 L616.16,662.77 L618.13,663.64 L620.10,664.57 L622.06,664.88 L624.02,665.37 L625.99,666.40 L627.95,666.16 L629.92,666.97 L631.88,667.31 L633.85,668.58 L635.82,667.93 L637.78,668.94 L639.75,669.54 L641.71,670.51 L643.67,671.05 L645.64,671.88 L647.61,671.39 L649.57,672.75 L651.53,672.93 L653.50,673.35 L655.47,674.32 L657.43,674.35 L659.39,674.49 L661.36,675.63 L663.33,675.77 L665.29,676.61 L667.25,677.50 L669.22,678.01" fill="none" stroke="#ff0000" stroke-width="2.0" stroke-linejoin="round" stroke-linecap="butt"/>
<path d="M449.14,603.05 L451.11,604.68 L453.07,606.41 L455.03,608.68 L457.00,610.43 L458.96,612.07 L460.93,614.33 L462.89,615.56 L464.86,616.62 L466.82,619.00 L468.79,620.07 L470.75,621.49 L472.72,622.56 L474.69,623.77 L476.65,624.51 L478.62,625.85 L480.58,626.49 L482.54,627.46 L484.51,628.51 L486.48,628.94 L488.44,630.49 L490.40,631.56 L492.37,632.80 L494.33,633.30 L496.30,635.37 L498.26,635.85 L500.23,636.39 L502.19,637.20 L504.16,638.66 L506.12,639.66 L508.09,640.37 L510.06,641.56 L512.02,642.20 L513.99,643.47 L515.95,643.85 L517.91,644.86 L519.88,645.94 L521.85,647.19 L523.81,646.61 L525.77,647.47 L527.74,648.02 L529.71,649.26 L531.67,649.24 L533.63,650.14 L535.60,651.01 L537.57,651.47 L539.53,652.31 L541.50,653.30 L543.46,653.48 L545.42,654.35 L547.39,655.24 L549.36,655.90 L551.32,656.24 L553.28,656.16 L555.25,657.17 L557.22,658.26 L559.18,658.89 L561.14,659.41 L563.11,659.85 L565.08,661.04 L567.04,661.24 L569.00,661.63 L570.97,662.35 L572.93,663.72 L574.90,663.87 L576.87,664.77 L578.83,664.76 L580.79,665.82 L582.76,665.85 L584.73,666.58 L586.69,668.10 L588.65,668.11 L590.62,668.28 L592.59,669.02 L594.55,669.73 L596.51,670.57 L598.48,670.49 L600.44,670.55 L602.41,671.54 L604.38,672.10 L606.34,672.57 L608.31,673.40 L610.27,673.45 L612.24,674.02 L614.20,673.75 L616.16,674.86 L618.13,675.72 L620.10,675.70 L622.06,675.96 L624.02,676.37 L625.99,677.40 L627.95,676.91 L629.92,677.67 L631.88,678.36 L633.85,678.96 L635.82,679.09 L637.78,679.90 L639.75,680.26 L641.71,680.95 L643.67,681.41 L645.64,681.57 L647.61,682.45 L649.57,683.21 L651.53,683.01 L653.50,683.70 L655.47,684.44 L657.43,684.25 L659.39,685.08 L661.36,685.04 L663.33,686.18 L665.29,686.95 L667.25,687.19 L669.22,686.73" fill="none" stroke="#00ff00" stroke-width="2.0" stroke-linejoin="round" stroke-linecap="butt"/>
<path d="M449.14,591.46 L451.11,591.58 L453.07,592.79 L455.03,595.14 L457.00,596.87 L458.96,600.66 L460.93,600.69 L462.89,601.64 L464.86,601.63 L466.82,602.62 L468.79,604.97 L470.75,607.06 L472.72,608.58 L474.69,610.70 L476.65,612.08 L478.62,612.97 L480.58,615.64 L482.54,616.71 L484.51,617.51 L486.48,618.45 L488.44,619.84 L490.40,620.14 L492.37,621.06 L494.33,622.42 L496.30,624.26 L498.26,624.40 L500.23,626.89 L502.19,627.39 L504.16,628.48 L506.12,630.78 L508.09,631.36 L510.06,631.99 L512.02,633.57 L513.99,635.31 L515.95,636.59 L517.91,637.03 L519.88,638.58 L521.85,639.89 L523.81,640.45 L525.77,642.09 L527.74,643.12 L529.71,644.19 L531.67,645.59 L533.63,647.11 L535.60,648.08 L537.57,648.56 L539.53,649.24 L541.50,650.53 L543.46,650.80 L545.42,651.95 L547.39,653.21 L549.36,654.24 L551.32,656.39 L553.28,656.37 L555.25,658.33 L557.22,659.01 L559.18,661.17 L561.14,662.22 L563.11,661.59 L565.08,662.92 L567.04,664.39 L569.00,665.08 L570.97,665.66 L572.93,665.94 L574.90,666.93 L576.87,667.94 L578.83,668.65 L580.79,670.21 L582.76,669.75 L584.73,671.94 L586.69,671.92 L588.65,673.47 L590.62,673.55 L592.59,673.90 L594.55,675.19 L596.51,675.44 L598.48,676.36 L600.44,677.01 L602.41,678.63 L604.38,679.71 L606.34,680.72 L608.31,680.93 L610.27,682.17 L612.24,682.39 L614.20,683.00 L616.16,683.94 L618.13,684.78 L620.10,684.74 L622.06,685.36 L624.02,685.97 L625.99,686.63 L627.95,686.75 L629.92,688.18 L631.88,688.12 L633.85,689.10 L635.82,689.12 L637.78,690.26 L639.75,690.89 L641.71,691.13 L643.67,692.82 L645.64,692.66 L647.61,693.85 L649.57,694.02 L651.53,693.82 L653.50,694.47 L655.47,695.36 L657.43,695.69 L659.39,696.19 L661.36,696.53 L663.33,696.32 L665.29,697.50 L667.25,697.06 L669.22,698.67" fill="none" stroke="#0000ff" stroke-width="2.0" stroke-linejoin="round" stroke-linecap="butt"/>
<path d="M449.14,585.76 L451.11,587.01 L453.07,588.61 L455.03,590.36 L457.00,591.55 L458.96,593.44 L460.93,595.74 L462.89,597.39 L464.86,599.77 L466.82,602.66 L468.79,603.62 L470.75,606.02 L472.72,607.03 L474.69,609.19 L476.65,610.39 L478.62,611.78 L480.58,613.24 L482.54,614.91 L484.51,615.64 L486.48,616.87 L488.44,617.74 L490.40,619.54 L492.37,620.53 L494.33,622.22 L496.30,623.31 L498.26,625.40 L500.23,625.57 L502.19,627.59 L504.16,629.32 L506.12,630.05 L508.09,630.95 L510.06,632.11 L512.02,632.65 L513.99,634.08 L515.95,635.80 L517.91,636.28 L519.88,636.45 L521.85,637.50 L523.81,638.58 L525.77,639.92 L527.74,640.02 L529.71,640.66 L531.67,641.69 L533.63,642.18 L535.60,642.39 L537.57,643.04 L539.53,643.98 L541.50,645.40 L543.46,645.90 L545.42,647.76 L547.39,647.92 L549.36,648.88 L551.32,649.90 L553.28,650.22 L555.25,650.05 L557.22,651.52 L559.18,652.45 L561.14,652.62 L563.11,653.33 L565.08,654.27 L567.04,654.29 L569.00,655.83 L570.97,654.93 L572.93,655.86 L574.90,656.69 L576.87,657.35 L578.83,658.18 L580.79,658.95 L582.76,659.50 L584.73,660.64 L586.69,660.12 L588.65,661.49 L590.62,661.84 L592.59,662.71 L594.55,663.29 L596.51,663.41 L598.48,663.99 L600.44,664.96 L602.41,665.26 L604.38,665.36 L606.34,666.76 L608.31,667.30 L610.27,666.42 L612.24,667.48 L614.20,668.69 L616.16,668.53 L618.13,668.78 L620.10,669.08 L622.06,669.41 L624.02,669.97 L625.99,670.30 L627.95,671.21 L629.92,671.28 L631.88,671.74 L633.85,671.97 L635.82,672.88 L637.78,673.11 L639.75,673.88 L641.71,674.84 L643.67,675.14 L645.64,675.71 L647.61,676.17 L649.57,676.58 L651.53,677.02 L653.50,677.46 L655.47,678.33 L657.43,678.18 L659.39,679.53 L661.36,679.57 L663.33,679.78 L665.29,680.36 L667.25,680.78 L669.22,681.56" fill="none" stroke="#000000" stroke-width="2.0" stroke-linejoin="round" stroke-linecap="butt"/>
<path d="M449.14,604.35 L451.11,607.39 L453.07,608.82 L455.03,610.03 L457.00,612.10 L458.96,613.02 L460.93,614.98 L462.89,616.54 L464.86,617.49 L466.82,617.83 L468.79,619.04 L470.75,620.94 L472.72,621.44 L474.69,622.33 L476.65,623.67 L478.62,625.13 L480.58,625.70 L482.54,626.27 L484.51,627.34 L486.48,628.42 L488.44,628.98 L490.40,629.82 L492.37,631.20 L494.33,631.84 L496.30,633.13 L498.26,634.18 L500.23,635.95 L502.19,635.81 L504.16,637.02 L506.12,637.93 L508.09,639.06 L510.06,640.19 L512.02,640.55 L513.99,641.29 L515.95,641.83 L517.91,642.85 L519.88,644.10 L521.85,644.64 L523.81,644.95 L525.77,645.84 L527.74,646.63 L529.71,647.40 L531.67,647.57 L533.63,648.27 L535.60,648.38 L537.57,649.38 L539.53,651.19 L541.50,650.70 L543.46,652.16 L545.42,653.05 L547.39,653.45 L549.36,653.85 L551.32,654.66 L553.28,655.23 L555.25,655.82 L557.22,655.86 L559.18,657.18 L561.14,657.66 L563.11,658.47 L565.08,659.40 L567.04,660.18 L569.00,660.89 L570.97,661.00 L572.93,662.06 L574.90,662.69 L576.87,663.18 L578.83,663.73 L580.79,663.65 L582.76,664.10 L584.73,664.92 L586.69,664.65 L588.65,665.72 L590.62,665.97 L592.59,666.52 L594.55,666.50 L596.51,667.21 L598.48,667.88 L600.44,668.57 L602.41,668.99 L604.38,669.07 L606.34,669.58 L608.31,670.01 L610.27,671.14 L612.24,671.63 L614.20,672.60 L616.16,673.59 L618.13,673.49 L620.10,673.47 L622.06,674.16 L624.02,674.41 L625.99,674.94 L627.95,676.26 L629.92,676.32 L631.88,676.16 L633.85,677.38 L635.82,678.05 L637.78,677.94 L639.75,678.28 L641.71,678.85 L643.67,679.52 L645.64,680.11 L647.61,680.77 L649.57,681.25 L651.53,681.72 L653.50,682.27 L655.47,682.51 L657.43,682.24 L659.39,683.22 L661.36,683.88 L663.33,684.14 L665.29,685.10 L667.25,685.16 L669.22,685.48" fill="none" stroke="#ff00ff" stroke-width="2.0" stroke-linejoin="round" stroke-linecap="butt"/>
<path d="M449.14,581.61 L451.11,582.92 L453.07,584.32 L455.03,586.15 L457.00,587.70 L458.96,588.87 L460.93,589.17 L462.89,591.27 L464.86,592.71 L466.82,593.83 L468.79,595.61 L470.75,597.30 L472.72,597.88 L474.69,598.84 L476.65,601.26 L478.62,601.39 L480.58,602.17 L482.54,603.83 L484.51,604.99 L486.48,605.63 L488.44,607.36 L490.40,608.00 L492.37,608.99 L494.33,610.60 L496.30,612.01 L498.26,612.61 L500.23,614.15 L502.19,615.13 L504.16,617.46 L506.12,617.20 L508.09,619.19 L510.06,619.76 L512.02,620.86 L513.99,622.30 L515.95,623.45 L517.91,624.66 L519.88,625.33 L521.85,625.99 L523.81,627.02 L525.77,628.40 L527.74,629.32 L529.71,630.46 L531.67,630.81 L533.63,631.80 L535.60,632.74 L537.57,632.99 L539.53,633.12 L541.50,634.04 L543.46,634.74 L545.42,636.75 L547.39,636.56 L549.36,638.17 L551.32,638.70 L553.28,639.95 L555.25,640.49 L557.22,640.90 L559.18,641.73 L561.14,642.73 L563.11,643.65 L565.08,644.26 L567.04,645.38 L569.00,646.99 L570.97,646.60 L572.93,648.25 L574.90,648.54 L576.87,649.62 L578.83,650.45 L580.79,650.63 L582.76,651.52 L584.73,651.21 L586.69,653.02 L588.65,653.14 L590.62,654.46 L592.59,655.08 L594.55,654.68 L596.51,656.04 L598.48,657.00 L600.44,658.08 L602.41,658.10 L604.38,658.60 L606.34,658.41 L608.31,659.98 L610.27,660.56 L612.24,660.29 L614.20,660.66 L616.16,660.63 L618.13,662.24 L620.10,663.66 L622.06,663.61 L624.02,664.61 L625.99,665.11 L627.95,665.27 L629.92,666.94 L631.88,666.60 L633.85,667.65 L635.82,668.48 L637.78,669.33 L639.75,669.75 L641.71,670.32 L643.67,670.43 L645.64,670.78 L647.61,671.87 L649.57,672.10 L651.53,672.40 L653.50,672.94 L655.47,673.76 L657.43,673.73 L659.39,674.43 L661.36,674.80 L663.33,676.01 L665.29,676.56 L667.25,677.66 L669.22,676.71" fill="none" stroke="#00ffff" stroke-width="2.0" stroke-linejoin="round" stroke-linecap="butt"/>
<rect x="35.8" y="761.7" width="653.6" height="69.2" fill="none" stroke="#5a5a5a" stroke-width="1.25"/>
<line x1="55.20" y1="778.40" x2="73.20" y2="778.40" stroke="#ff0000" stroke-width="2.8"/>
<line x1="55.20" y1="813.30" x2="73.20" y2="813.30" stroke="#000000" stroke-width="2.8"/>
<line x1="231.00" y1="777.30" x2="249.10" y2="777.30" stroke="#00ff00" stroke-width="2.8"/>
<line x1="232.00" y1="813.90" x2="250.10" y2="813.90" stroke="#00ffff" stroke-width="2.8"/>
<line x1="471.90" y1="777.00" x2="490.30" y2="777.00" stroke="#0000ff" stroke-width="2.8"/>
<line x1="471.90" y1="813.40" x2="489.60" y2="813.40" stroke="#ff00ff" stroke-width="2.8"/>
<text transform="translate(67.48,19.62) scale(1.0119,1)" font-family='"Liberation Sans", sans-serif' font-weight="bold" font-size="20.16" fill="#000">(a)</text>
<text transform="translate(416.77,19.37) scale(1.0632,1)" font-family='"Liberation Sans", sans-serif' font-weight="bold" font-size="19.41" fill="#000">(b)</text>
<text transform="translate(70.52,204.41) scale(0.9978,1)" font-family='"Liberation Sans", sans-serif' font-weight="bold" font-size="19.73" fill="#000">(c)</text>
<text transform="translate(421.39,204.57) scale(0.9920,1)" font-family='"Liberation Sans", sans-serif' font-weight="bold" font-size="20.38" fill="#000">(d)</text>
<text transform="translate(70.07,393.67) scale(1.0100,1)" font-family='"Liberation Sans", sans-serif' font-weight="bold" font-size="20.38" fill="#000">(e)</text>
<text transform="translate(428.11,393.69) scale(0.9785,1)" font-family='"Liberation Sans", sans-serif' font-weight="bold" font-size="20.27" fill="#000">(f)</text>
<text transform="translate(71.09,588.56) scale(1.0176,1)" font-family='"Liberation Sans", sans-serif' font-weight="bold" font-size="19.95" fill="#000">(g)</text>
<text transform="translate(421.90,586.57) scale(0.9795,1)" font-family='"Liberation Sans", sans-serif' font-weight="bold" font-size="20.38" fill="#000">(h)</text>
<text transform="translate(68.92,162.22) scale(0.9894,1)" font-family='"Liberation Serif", serif' font-size="18.22" fill="#1a1a1a">-4000</text>
<text transform="translate(135.33,162.32) scale(0.9797,1)" font-family='"Liberation Serif", serif' font-size="18.22" fill="#1a1a1a">-2000</text>
<text transform="translate(198.30,162.22) scale(1.0284,1)" font-family='"Liberation Serif", serif' font-size="18.07" fill="#1a1a1a">0</text>
<text transform="translate(240.07,162.22) scale(1.0186,1)" font-family='"Liberation Serif", serif' font-size="18.07" fill="#1a1a1a">2000</text>
<text transform="translate(403.63,164.03) scale(1.0465,1)" font-family='"Liberation Serif", serif' font-size="17.19" fill="#1a1a1a">-4000</text>
<text transform="translate(470.23,163.93) scale(1.0336,1)" font-family='"Liberation Serif", serif' font-size="17.19" fill="#1a1a1a">-2000</text>
<text transform="translate(533.00,164.03) scale(1.0724,1)" font-family='"Liberation Serif", serif' font-size="17.33" fill="#1a1a1a">0</text>
<text transform="translate(574.78,164.03) scale(1.0561,1)" font-family='"Liberation Serif", serif' font-size="17.33" fill="#1a1a1a">2000</text>
<text transform="translate(56.73,534.82) scale(0.9821,1)" font-family='"Liberation Serif", serif' font-size="18.22" fill="#1a1a1a">-4000</text>
<text transform="translate(122.63,534.82) scale(0.9821,1)" font-family='"Liberation Serif", serif' font-size="18.22" fill="#1a1a1a">-2000</text>
<text transform="translate(185.25,534.82) scale(1.0976,1)" font-family='"Liberation Serif", serif' font-size="18.22" fill="#1a1a1a">0</text>
<text transform="translate(227.96,534.82) scale(1.0274,1)" font-family='"Liberation Serif", serif' font-size="18.22" fill="#1a1a1a">2000</text>
<text transform="translate(391.21,535.13) scale(1.0580,1)" font-family='"Liberation Serif", serif' font-size="17.33" fill="#1a1a1a">-4000</text>
<text transform="translate(457.51,535.13) scale(1.0606,1)" font-family='"Liberation Serif", serif' font-size="17.33" fill="#1a1a1a">-2000</text>
<text transform="translate(521.41,535.13) scale(1.0588,1)" font-family='"Liberation Serif", serif' font-size="17.33" fill="#1a1a1a">0</text>
<text transform="translate(563.36,535.13) scale(1.0771,1)" font-family='"Liberation Serif", serif' font-size="17.33" fill="#1a1a1a">2000</text>
<text transform="translate(284.95,176.03) scale(1.0493,1)" font-family='"Liberation Serif", serif' font-size="20.80" fill="#1a1a1a">Frequency, Hz</text>
<text transform="translate(284.95,551.60) scale(1.0915,1)" font-family='"Liberation Serif", serif' font-size="20.00" fill="#1a1a1a">Frequency, Hz</text>
<text transform="translate(239.95,358.79) scale(1.0294,1)" font-family='"Liberation Serif", serif' font-size="20.98" fill="#1a1a1a">Number of sampling points</text>
<text transform="translate(239.95,738.84) scale(1.0433,1)" font-family='"Liberation Serif", serif' font-size="20.76" fill="#1a1a1a">Number of sampling points</text>
<text transform="translate(16.57,289.72) rotate(-90) scale(0.9176,1)" font-family='"Liberation Serif", serif' font-size="22.55" fill="#1a1a1a">Residual</text>
<text transform="translate(18.67,664.72) rotate(-90) scale(0.9176,1)" font-family='"Liberation Serif", serif' font-size="22.55" fill="#1a1a1a">Residual</text>
<text transform="translate(64.02,339.92) scale(1.1078,1)" font-family='"Liberation Serif", serif' font-size="17.63" fill="#1a1a1a">0</text>
<text transform="translate(98.69,339.92) scale(1.0695,1)" font-family='"Liberation Serif", serif' font-size="17.63" fill="#1a1a1a">20</text>
<text transform="translate(138.46,339.92) scale(1.0412,1)" font-family='"Liberation Serif", serif' font-size="17.63" fill="#1a1a1a">40</text>
<text transform="translate(177.32,339.92) scale(1.0666,1)" font-family='"Liberation Serif", serif' font-size="17.63" fill="#1a1a1a">60</text>
<text transform="translate(216.71,339.92) scale(1.0609,1)" font-family='"Liberation Serif", serif' font-size="17.63" fill="#1a1a1a">80</text>
<text transform="translate(251.32,339.92) scale(1.0272,1)" font-family='"Liberation Serif", serif' font-size="17.63" fill="#1a1a1a">100</text>
<text transform="translate(290.61,339.92) scale(1.0272,1)" font-family='"Liberation Serif", serif' font-size="17.63" fill="#1a1a1a">120</text>
<text transform="translate(329.90,339.92) scale(1.0272,1)" font-family='"Liberation Serif", serif' font-size="17.63" fill="#1a1a1a">140</text>
<text transform="translate(412.42,339.73) scale(1.1267,1)" font-family='"Liberation Serif", serif' font-size="17.33" fill="#1a1a1a">0</text>
<text transform="translate(447.02,339.73) scale(1.0878,1)" font-family='"Liberation Serif", serif' font-size="17.33" fill="#1a1a1a">20</text>
<text transform="translate(486.72,339.73) scale(1.0590,1)" font-family='"Liberation Serif", serif' font-size="17.33" fill="#1a1a1a">40</text>
<text transform="translate(525.51,339.73) scale(1.0849,1)" font-family='"Liberation Serif", serif' font-size="17.33" fill="#1a1a1a">60</text>
<text transform="translate(564.83,339.73) scale(1.0790,1)" font-family='"Liberation Serif", serif' font-size="17.33" fill="#1a1a1a">80</text>
<text transform="translate(599.37,339.73) scale(1.0448,1)" font-family='"Liberation Serif", serif' font-size="17.33" fill="#1a1a1a">100</text>
<text transform="translate(638.59,339.73) scale(1.0448,1)" font-family='"Liberation Serif", serif' font-size="17.33" fill="#1a1a1a">120</text>
<text transform="translate(677.81,339.73) scale(1.0448,1)" font-family='"Liberation Serif", serif' font-size="17.33" fill="#1a1a1a">140</text>
<text transform="translate(62.12,718.34) scale(1.1984,1)" font-family='"Liberation Serif", serif' font-size="16.30" fill="#1a1a1a">0</text>
<text transform="translate(96.70,718.34) scale(1.1570,1)" font-family='"Liberation Serif", serif' font-size="16.30" fill="#1a1a1a">20</text>
<text transform="translate(136.38,718.34) scale(1.1264,1)" font-family='"Liberation Serif", serif' font-size="16.30" fill="#1a1a1a">40</text>
<text transform="translate(175.15,718.34) scale(1.1539,1)" font-family='"Liberation Serif", serif' font-size="16.30" fill="#1a1a1a">60</text>
<text transform="translate(214.45,718.34) scale(1.1477,1)" font-family='"Liberation Serif", serif' font-size="16.30" fill="#1a1a1a">80</text>
<text transform="translate(248.97,718.34) scale(1.1112,1)" font-family='"Liberation Serif", serif' font-size="16.30" fill="#1a1a1a">100</text>
<text transform="translate(288.17,718.34) scale(1.1112,1)" font-family='"Liberation Serif", serif' font-size="16.30" fill="#1a1a1a">120</text>
<text transform="translate(327.37,718.34) scale(1.1112,1)" font-family='"Liberation Serif", serif' font-size="16.30" fill="#1a1a1a">140</text>
<text transform="translate(413.12,718.34) scale(1.1984,1)" font-family='"Liberation Serif", serif' font-size="16.30" fill="#1a1a1a">0</text>
<text transform="translate(447.72,718.34) scale(1.1570,1)" font-family='"Liberation Serif", serif' font-size="16.30" fill="#1a1a1a">20</text>
<text transform="translate(487.42,718.34) scale(1.1264,1)" font-family='"Liberation Serif", serif' font-size="16.30" fill="#1a1a1a">40</text>
<text transform="translate(526.21,718.34) scale(1.1539,1)" font-family='"Liberation Serif", serif' font-size="16.30" fill="#1a1a1a">60</text>
<text transform="translate(565.53,718.34) scale(1.1477,1)" font-family='"Liberation Serif", serif' font-size="16.30" fill="#1a1a1a">80</text>
<text transform="translate(600.07,718.34) scale(1.1112,1)" font-family='"Liberation Serif", serif' font-size="16.30" fill="#1a1a1a">100</text>
<text transform="translate(639.29,718.34) scale(1.1112,1)" font-family='"Liberation Serif", serif' font-size="16.30" fill="#1a1a1a">120</text>
<text transform="translate(678.51,718.34) scale(1.1112,1)" font-family='"Liberation Serif", serif' font-size="16.30" fill="#1a1a1a">140</text>
<text transform="translate(23.82,191.53) scale(1.5022,1)" font-family='"Liberation Serif", serif' font-size="12.00" fill="#222">1000</text>
<text transform="translate(32.62,217.93) scale(1.5146,1)" font-family='"Liberation Serif", serif' font-size="12.00" fill="#222">800</text>
<text transform="translate(32.52,244.63) scale(1.5200,1)" font-family='"Liberation Serif", serif' font-size="12.00" fill="#222">600</text>
<text transform="translate(32.94,270.93) scale(1.4962,1)" font-family='"Liberation Serif", serif' font-size="12.00" fill="#222">400</text>
<text transform="translate(32.48,297.73) scale(1.5226,1)" font-family='"Liberation Serif", serif' font-size="12.00" fill="#222">200</text>
<text transform="translate(50.82,324.33) scale(1.5098,1)" font-family='"Liberation Serif", serif' font-size="12.00" fill="#222">0</text>
<text transform="translate(371.82,191.53) scale(1.5022,1)" font-family='"Liberation Serif", serif' font-size="12.00" fill="#222">1000</text>
<text transform="translate(380.62,217.93) scale(1.5146,1)" font-family='"Liberation Serif", serif' font-size="12.00" fill="#222">800</text>
<text transform="translate(380.52,244.63) scale(1.5200,1)" font-family='"Liberation Serif", serif' font-size="12.00" fill="#222">600</text>
<text transform="translate(380.94,270.93) scale(1.4962,1)" font-family='"Liberation Serif", serif' font-size="12.00" fill="#222">400</text>
<text transform="translate(380.48,297.73) scale(1.5226,1)" font-family='"Liberation Serif", serif' font-size="12.00" fill="#222">200</text>
<text transform="translate(398.82,324.33) scale(1.5098,1)" font-family='"Liberation Serif", serif' font-size="12.00" fill="#222">0</text>
<text transform="translate(30.70,571.43) scale(1.5444,1)" font-family='"Liberation Serif", serif' font-size="12.00" fill="#222">700</text>
<text transform="translate(31.12,592.93) scale(1.5200,1)" font-family='"Liberation Serif", serif' font-size="12.00" fill="#222">600</text>
<text transform="translate(30.84,615.43) scale(1.5362,1)" font-family='"Liberation Serif", serif' font-size="12.00" fill="#222">500</text>
<text transform="translate(31.54,637.53) scale(1.4962,1)" font-family='"Liberation Serif", serif' font-size="12.00" fill="#222">400</text>
<text transform="translate(31.03,659.83) scale(1.5253,1)" font-family='"Liberation Serif", serif' font-size="12.00" fill="#222">300</text>
<text transform="translate(31.08,682.03) scale(1.5226,1)" font-family='"Liberation Serif", serif' font-size="12.00" fill="#222">200</text>
<text transform="translate(31.42,704.13) scale(1.5030,1)" font-family='"Liberation Serif", serif' font-size="12.00" fill="#222">100</text>
<text transform="translate(382.10,571.43) scale(1.5444,1)" font-family='"Liberation Serif", serif' font-size="12.00" fill="#222">700</text>
<text transform="translate(382.52,592.93) scale(1.5200,1)" font-family='"Liberation Serif", serif' font-size="12.00" fill="#222">600</text>
<text transform="translate(382.24,615.43) scale(1.5362,1)" font-family='"Liberation Serif", serif' font-size="12.00" fill="#222">500</text>
<text transform="translate(382.94,637.53) scale(1.4962,1)" font-family='"Liberation Serif", serif' font-size="12.00" fill="#222">400</text>
<text transform="translate(382.43,659.83) scale(1.5253,1)" font-family='"Liberation Serif", serif' font-size="12.00" fill="#222">300</text>
<text transform="translate(382.48,682.03) scale(1.5226,1)" font-family='"Liberation Serif", serif' font-size="12.00" fill="#222">200</text>
<text transform="translate(382.82,704.13) scale(1.5030,1)" font-family='"Liberation Serif", serif' font-size="12.00" fill="#222">100</text>
<text transform="translate(186.49,296.12) scale(1.0467,1)" font-family='"Liberation Sans", sans-serif' font-size="18.09" fill="#111">30</text>
<text transform="translate(236.69,295.92) scale(1.0321,1)" font-family='"Liberation Sans", sans-serif' font-size="17.81" fill="#111">40</text>
<text transform="translate(284.95,296.12) scale(1.0386,1)" font-family='"Liberation Sans", sans-serif' font-size="18.09" fill="#111">50</text>
<text transform="translate(218.62,219.32) scale(1.0751,1)" font-family='"Liberation Sans", sans-serif' font-size="17.92" fill="#3a1c1c">Zoom</text>
<text transform="translate(95.89,784.52) scale(1.0368,1)" font-family='"Liberation Sans", sans-serif' font-size="17.69" fill="#111">PG - no mod.</text>
<text transform="translate(80.17,820.16) scale(1.0298,1)" font-family='"Liberation Sans", sans-serif' font-size="18.02" fill="#111">PG exp. mod.</text>
<text transform="translate(254.98,819.69) scale(1.0699,1)" font-family='"Liberation Sans", sans-serif' font-size="18.34" fill="#111">Unweighted random</text>
<text transform="translate(499.90,821.65) scale(1.1008,1)" font-family='"Liberation Sans", sans-serif' font-size="18.55" fill="#111">Weighted random</text>
<text transform="translate(256.62,782.71) scale(1.0099,1)" font-family='"Liberation Sans", sans-serif' font-size="17.80" fill="#111">PG sin( π/2 t/t</text>
<text transform="translate(368.39,786.68) scale(1.1401,1)" font-family='"Liberation Sans", sans-serif' font-size="11.87" fill="#111">max</text>
<text transform="translate(395.16,781.95) scale(0.9498,1)" font-family='"Liberation Sans", sans-serif' font-size="19.52" fill="#111">) mod.</text>
<text transform="translate(498.41,782.71) scale(1.0143,1)" font-family='"Liberation Sans", sans-serif' font-size="17.80" fill="#111">PG sin( π t/t</text>
<text transform="translate(595.38,786.98) scale(1.1494,1)" font-family='"Liberation Sans", sans-serif' font-size="11.87" fill="#111">max</text>
<text transform="translate(622.46,781.95) scale(0.9442,1)" font-family='"Liberation Sans", sans-serif' font-size="19.52" fill="#111">) mod.</text></svg></body></html>
